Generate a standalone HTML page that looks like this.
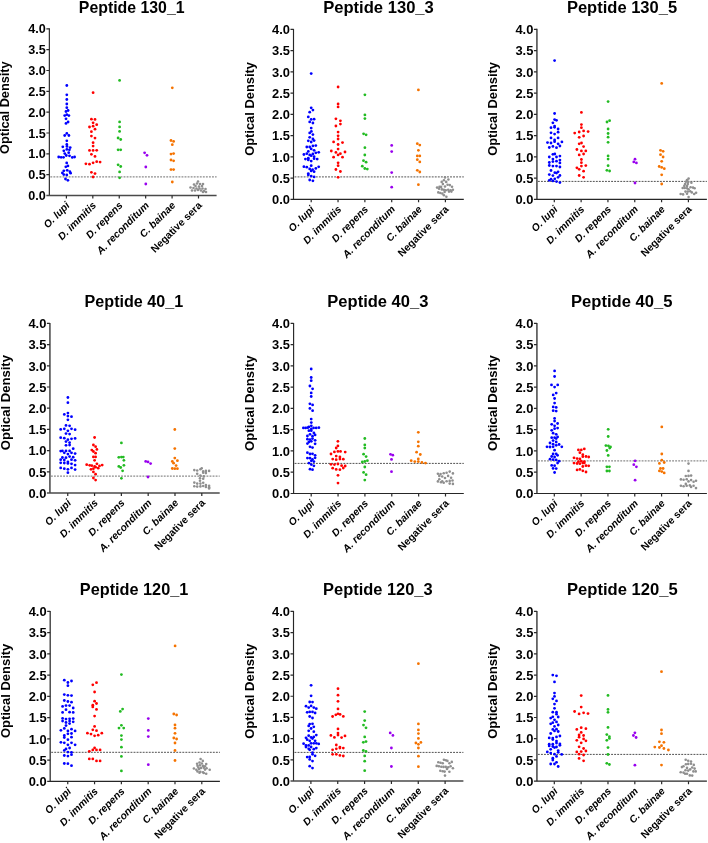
<!DOCTYPE html>
<html><head><meta charset="utf-8"><style>
html,body{margin:0;padding:0;background:#fff;}
svg{display:block;will-change:transform;}
.b{font-family:"Liberation Sans",sans-serif;font-weight:bold;fill:#000;}
</style></head><body>
<svg width="708" height="843" viewBox="0 0 708 843">
<text x="131.68" y="12.70" font-size="15.85" text-anchor="middle" class="b">Peptide 130_1</text>
<text transform="translate(9.45,107.70) rotate(-90)" font-size="12.73" text-anchor="middle" class="b">Optical Density</text>
<path d="M49.35 28.35V195.50" stroke="#262626" stroke-width="1.15" fill="none"/>
<path d="M46.35 195.50H216.60" stroke="#4a4a4a" stroke-width="1.55" fill="none"/>
<text x="45.75" y="200.14" font-size="12.6" text-anchor="end" class="b">0.0</text>
<text x="45.75" y="179.31" font-size="12.6" text-anchor="end" class="b">0.5</text>
<text x="45.75" y="158.47" font-size="12.6" text-anchor="end" class="b">1.0</text>
<text x="45.75" y="137.64" font-size="12.6" text-anchor="end" class="b">1.5</text>
<text x="45.75" y="116.81" font-size="12.6" text-anchor="end" class="b">2.0</text>
<text x="45.75" y="95.98" font-size="12.6" text-anchor="end" class="b">2.5</text>
<text x="45.75" y="75.15" font-size="12.6" text-anchor="end" class="b">3.0</text>
<text x="45.75" y="54.32" font-size="12.6" text-anchor="end" class="b">3.5</text>
<text x="45.75" y="33.49" font-size="12.6" text-anchor="end" class="b">4.0</text>
<text transform="translate(70.35,206.00) rotate(-45)" font-size="10.30" text-anchor="end" class="b" font-style="italic">O. lupi</text>
<text transform="translate(96.77,206.00) rotate(-45)" font-size="10.30" text-anchor="end" class="b" font-style="italic">D. immitis</text>
<text transform="translate(123.19,206.00) rotate(-45)" font-size="10.30" text-anchor="end" class="b" font-style="italic">D. repens</text>
<text transform="translate(149.61,206.00) rotate(-45)" font-size="10.30" text-anchor="end" class="b" font-style="italic">A. reconditum</text>
<text transform="translate(176.03,206.00) rotate(-45)" font-size="10.30" text-anchor="end" class="b" font-style="italic">C. bainae</text>
<text transform="translate(202.45,206.00) rotate(-45)" font-size="10.30" text-anchor="end" class="b">Negative sera</text>
<path d="M46.35 174.67H49.35M46.35 153.84H49.35M46.35 133.01H49.35M46.35 112.17H49.35M46.35 91.34H49.35M46.35 70.51H49.35M46.35 49.68H49.35M46.35 28.85H49.35M66.40 195.50V198.50M92.82 195.50V198.50M119.24 195.50V198.50M145.66 195.50V198.50M172.08 195.50V198.50M198.50 195.50V198.50" stroke="#2a2a2a" stroke-width="1.2" fill="none"/>
<path d="M50.35 176.90H216.60" stroke="#8c8c8c" stroke-width="1.3" stroke-dasharray="1.9 1.15" fill="none"/>
<circle cx="66.8" cy="85.5" r="1.4" fill="#0000ff"/><circle cx="66.8" cy="94.8" r="1.4" fill="#0000ff"/><circle cx="66.8" cy="99.5" r="1.4" fill="#0000ff"/><circle cx="66.8" cy="104.0" r="1.4" fill="#0000ff"/><circle cx="66.8" cy="107.7" r="1.4" fill="#0000ff"/><circle cx="66.0" cy="111.5" r="1.4" fill="#0000ff"/><circle cx="68.1" cy="110.5" r="1.4" fill="#0000ff"/><circle cx="64.7" cy="115.6" r="1.4" fill="#0000ff"/><circle cx="66.8" cy="114.7" r="1.4" fill="#0000ff"/><circle cx="68.9" cy="115.6" r="1.4" fill="#0000ff"/><circle cx="66.0" cy="118.8" r="1.4" fill="#0000ff"/><circle cx="68.1" cy="122.0" r="1.4" fill="#0000ff"/><circle cx="66.0" cy="123.4" r="1.4" fill="#0000ff"/><circle cx="66.8" cy="133.4" r="1.4" fill="#0000ff"/><circle cx="64.7" cy="135.5" r="1.4" fill="#0000ff"/><circle cx="68.9" cy="135.5" r="1.4" fill="#0000ff"/><circle cx="66.8" cy="140.8" r="1.4" fill="#0000ff"/><circle cx="66.8" cy="144.5" r="1.4" fill="#0000ff"/><circle cx="62.8" cy="146.8" r="1.4" fill="#0000ff"/><circle cx="67" cy="146.4" r="1.4" fill="#0000ff"/><circle cx="70.2" cy="147.6" r="1.4" fill="#0000ff"/><circle cx="69.4" cy="149.8" r="1.4" fill="#0000ff"/><circle cx="66.8" cy="149.4" r="1.4" fill="#0000ff"/><circle cx="63.8" cy="150.8" r="1.4" fill="#0000ff"/><circle cx="64.8" cy="153.6" r="1.4" fill="#0000ff"/><circle cx="68.7" cy="152.7" r="1.4" fill="#0000ff"/><circle cx="58.7" cy="157" r="1.4" fill="#0000ff"/><circle cx="61.1" cy="157.3" r="1.4" fill="#0000ff"/><circle cx="63.5" cy="157.3" r="1.4" fill="#0000ff"/><circle cx="66.3" cy="155.5" r="1.4" fill="#0000ff"/><circle cx="69.5" cy="155.8" r="1.4" fill="#0000ff"/><circle cx="72.3" cy="157.4" r="1.4" fill="#0000ff"/><circle cx="74.6" cy="157" r="1.4" fill="#0000ff"/><circle cx="66.7" cy="162.9" r="1.4" fill="#0000ff"/><circle cx="65.8" cy="166.8" r="1.4" fill="#0000ff"/><circle cx="67.9" cy="165.9" r="1.4" fill="#0000ff"/><circle cx="63.8" cy="170.8" r="1.4" fill="#0000ff"/><circle cx="67.2" cy="170.3" r="1.4" fill="#0000ff"/><circle cx="69.9" cy="171.7" r="1.4" fill="#0000ff"/><circle cx="70.6" cy="173.2" r="1.4" fill="#0000ff"/><circle cx="66.8" cy="174.9" r="1.4" fill="#0000ff"/><circle cx="63.8" cy="174.6" r="1.4" fill="#0000ff"/><circle cx="62.4" cy="172.9" r="1.4" fill="#0000ff"/><circle cx="65.5" cy="179" r="1.4" fill="#0000ff"/><circle cx="67.9" cy="180.3" r="1.4" fill="#0000ff"/>
<circle cx="93.1" cy="92.7" r="1.4" fill="#ff0000"/><circle cx="91.4" cy="119.2" r="1.4" fill="#ff0000"/><circle cx="95.0" cy="119.4" r="1.4" fill="#ff0000"/><circle cx="93.1" cy="122.8" r="1.4" fill="#ff0000"/><circle cx="96.7" cy="124.7" r="1.4" fill="#ff0000"/><circle cx="89.5" cy="127" r="1.4" fill="#ff0000"/><circle cx="93.1" cy="126.2" r="1.4" fill="#ff0000"/><circle cx="95" cy="129.2" r="1.4" fill="#ff0000"/><circle cx="91.4" cy="131.7" r="1.4" fill="#ff0000"/><circle cx="91.4" cy="136.1" r="1.4" fill="#ff0000"/><circle cx="95" cy="138.1" r="1.4" fill="#ff0000"/><circle cx="93.1" cy="142.7" r="1.4" fill="#ff0000"/><circle cx="93.1" cy="146.1" r="1.4" fill="#ff0000"/><circle cx="89.5" cy="150.4" r="1.4" fill="#ff0000"/><circle cx="93.1" cy="150.4" r="1.4" fill="#ff0000"/><circle cx="96.7" cy="150.3" r="1.4" fill="#ff0000"/><circle cx="91.4" cy="154.3" r="1.4" fill="#ff0000"/><circle cx="95" cy="156.4" r="1.4" fill="#ff0000"/><circle cx="85.9" cy="163.8" r="1.4" fill="#ff0000"/><circle cx="89.5" cy="164.2" r="1.4" fill="#ff0000"/><circle cx="93.1" cy="162.8" r="1.4" fill="#ff0000"/><circle cx="96.7" cy="161.7" r="1.4" fill="#ff0000"/><circle cx="100.1" cy="162.1" r="1.4" fill="#ff0000"/><circle cx="91.4" cy="172.3" r="1.4" fill="#ff0000"/><circle cx="95" cy="173.6" r="1.4" fill="#ff0000"/><circle cx="93.1" cy="177" r="1.4" fill="#ff0000"/>
<circle cx="119.6" cy="80.4" r="1.4" fill="#22bb22"/><circle cx="119.6" cy="121.9" r="1.4" fill="#22bb22"/><circle cx="119.6" cy="126.9" r="1.4" fill="#22bb22"/><circle cx="119.6" cy="131.4" r="1.4" fill="#22bb22"/><circle cx="118.1" cy="138" r="1.4" fill="#22bb22"/><circle cx="120.7" cy="139.5" r="1.4" fill="#22bb22"/><circle cx="118.1" cy="149.8" r="1.4" fill="#22bb22"/><circle cx="120.7" cy="149.8" r="1.4" fill="#22bb22"/><circle cx="118.1" cy="164.8" r="1.4" fill="#22bb22"/><circle cx="120.7" cy="166.5" r="1.4" fill="#22bb22"/><circle cx="119.6" cy="171.9" r="1.4" fill="#22bb22"/><circle cx="119.6" cy="177.8" r="1.4" fill="#22bb22"/>
<circle cx="144.6" cy="152.8" r="1.4" fill="#9900ee"/><circle cx="147" cy="155.3" r="1.4" fill="#9900ee"/><circle cx="145.8" cy="167" r="1.4" fill="#9900ee"/><circle cx="145.8" cy="184" r="1.4" fill="#9900ee"/>
<circle cx="172.3" cy="87.8" r="1.4" fill="#f57300"/><circle cx="171" cy="140.5" r="1.4" fill="#f57300"/><circle cx="173.6" cy="141.4" r="1.4" fill="#f57300"/><circle cx="172.3" cy="144.7" r="1.4" fill="#f57300"/><circle cx="171" cy="154.1" r="1.4" fill="#f57300"/><circle cx="173.6" cy="153.6" r="1.4" fill="#f57300"/><circle cx="171" cy="160" r="1.4" fill="#f57300"/><circle cx="173.6" cy="160.8" r="1.4" fill="#f57300"/><circle cx="171" cy="169.6" r="1.4" fill="#f57300"/><circle cx="173.6" cy="169.6" r="1.4" fill="#f57300"/><circle cx="172.3" cy="182" r="1.4" fill="#f57300"/>
<circle cx="198" cy="181.5" r="1.3" fill="#8f8f8f"/><circle cx="194" cy="184.5" r="1.3" fill="#8f8f8f"/><circle cx="197" cy="183.5" r="1.3" fill="#8f8f8f"/><circle cx="200" cy="184" r="1.3" fill="#8f8f8f"/><circle cx="203" cy="184" r="1.3" fill="#8f8f8f"/><circle cx="195.5" cy="186" r="1.3" fill="#8f8f8f"/><circle cx="199" cy="186.5" r="1.3" fill="#8f8f8f"/><circle cx="202" cy="186" r="1.3" fill="#8f8f8f"/><circle cx="190.5" cy="187.5" r="1.3" fill="#8f8f8f"/><circle cx="193.5" cy="188" r="1.3" fill="#8f8f8f"/><circle cx="196.5" cy="188.5" r="1.3" fill="#8f8f8f"/><circle cx="199.5" cy="188.5" r="1.3" fill="#8f8f8f"/><circle cx="202.5" cy="188.5" r="1.3" fill="#8f8f8f"/><circle cx="205.5" cy="189" r="1.3" fill="#8f8f8f"/><circle cx="192" cy="190.5" r="1.3" fill="#8f8f8f"/><circle cx="195" cy="190.5" r="1.3" fill="#8f8f8f"/><circle cx="198" cy="190" r="1.3" fill="#8f8f8f"/><circle cx="201" cy="190.5" r="1.3" fill="#8f8f8f"/><circle cx="204" cy="191" r="1.3" fill="#8f8f8f"/><circle cx="203" cy="192" r="1.3" fill="#8f8f8f"/><circle cx="206" cy="192" r="1.3" fill="#8f8f8f"/>
<text x="378.47" y="13.30" font-size="16.60" text-anchor="middle" class="b">Peptide 130_3</text>
<text transform="translate(253.60,108.90) rotate(-90)" font-size="12.9" text-anchor="middle" class="b">Optical Density</text>
<path d="M293.50 28.93V199.35" stroke="#262626" stroke-width="1.15" fill="none"/>
<path d="M290.50 199.35H463.80" stroke="#262626" stroke-width="1.15" fill="none"/>
<text x="289.90" y="204.10" font-size="12.9" text-anchor="end" class="b">0.0</text>
<text x="289.90" y="182.86" font-size="12.9" text-anchor="end" class="b">0.5</text>
<text x="289.90" y="161.62" font-size="12.9" text-anchor="end" class="b">1.0</text>
<text x="289.90" y="140.38" font-size="12.9" text-anchor="end" class="b">1.5</text>
<text x="289.90" y="119.14" font-size="12.9" text-anchor="end" class="b">2.0</text>
<text x="289.90" y="97.90" font-size="12.9" text-anchor="end" class="b">2.5</text>
<text x="289.90" y="76.66" font-size="12.9" text-anchor="end" class="b">3.0</text>
<text x="289.90" y="55.42" font-size="12.9" text-anchor="end" class="b">3.5</text>
<text x="289.90" y="34.18" font-size="12.9" text-anchor="end" class="b">4.0</text>
<text transform="translate(315.15,209.85) rotate(-45)" font-size="10.30" text-anchor="end" class="b" font-style="italic">O. lupi</text>
<text transform="translate(341.99,209.85) rotate(-45)" font-size="10.30" text-anchor="end" class="b" font-style="italic">D. immitis</text>
<text transform="translate(368.83,209.85) rotate(-45)" font-size="10.30" text-anchor="end" class="b" font-style="italic">D. repens</text>
<text transform="translate(395.67,209.85) rotate(-45)" font-size="10.30" text-anchor="end" class="b" font-style="italic">A. reconditum</text>
<text transform="translate(422.51,209.85) rotate(-45)" font-size="10.30" text-anchor="end" class="b" font-style="italic">C. bainae</text>
<text transform="translate(449.35,209.85) rotate(-45)" font-size="10.30" text-anchor="end" class="b">Negative sera</text>
<path d="M290.50 178.11H293.50M290.50 156.87H293.50M290.50 135.63H293.50M290.50 114.39H293.50M290.50 93.15H293.50M290.50 71.91H293.50M290.50 50.67H293.50M290.50 29.43H293.50M311.20 199.35V202.35M338.04 199.35V202.35M364.88 199.35V202.35M391.72 199.35V202.35M418.56 199.35V202.35M445.40 199.35V202.35" stroke="#2a2a2a" stroke-width="1.2" fill="none"/>
<path d="M294.50 176.80H463.80" stroke="#777" stroke-width="1.2" stroke-dasharray="1.9 1.15" fill="none"/>
<circle cx="311.2" cy="73.6" r="1.4" fill="#0000ff"/><circle cx="311.2" cy="107.8" r="1.4" fill="#0000ff"/><circle cx="312.9" cy="110.1" r="1.4" fill="#0000ff"/><circle cx="309.7" cy="112.2" r="1.4" fill="#0000ff"/><circle cx="308.3" cy="116.9" r="1.4" fill="#0000ff"/><circle cx="311.2" cy="119.4" r="1.4" fill="#0000ff"/><circle cx="314.1" cy="119.2" r="1.4" fill="#0000ff"/><circle cx="309.7" cy="121.9" r="1.4" fill="#0000ff"/><circle cx="312.9" cy="123" r="1.4" fill="#0000ff"/><circle cx="311.2" cy="128.1" r="1.4" fill="#0000ff"/><circle cx="309.7" cy="132.9" r="1.4" fill="#0000ff"/><circle cx="311.4" cy="131.4" r="1.4" fill="#0000ff"/><circle cx="312.9" cy="134.6" r="1.4" fill="#0000ff"/><circle cx="309.7" cy="137.3" r="1.4" fill="#0000ff"/><circle cx="312.9" cy="139" r="1.4" fill="#0000ff"/><circle cx="314.1" cy="140.6" r="1.4" fill="#0000ff"/><circle cx="308.3" cy="140.8" r="1.4" fill="#0000ff"/><circle cx="311.2" cy="142" r="1.4" fill="#0000ff"/><circle cx="306.8" cy="147" r="1.4" fill="#0000ff"/><circle cx="309.7" cy="147" r="1.4" fill="#0000ff"/><circle cx="312.9" cy="145.9" r="1.4" fill="#0000ff"/><circle cx="315.8" cy="145.6" r="1.4" fill="#0000ff"/><circle cx="311.2" cy="148.9" r="1.4" fill="#0000ff"/><circle cx="308.3" cy="151.4" r="1.4" fill="#0000ff"/><circle cx="314.1" cy="150.3" r="1.4" fill="#0000ff"/><circle cx="315.8" cy="152.8" r="1.4" fill="#0000ff"/><circle cx="318.7" cy="152.3" r="1.4" fill="#0000ff"/><circle cx="306.8" cy="153.7" r="1.4" fill="#0000ff"/><circle cx="303.9" cy="154.5" r="1.4" fill="#0000ff"/><circle cx="309.7" cy="154.9" r="1.4" fill="#0000ff"/><circle cx="312.9" cy="153.9" r="1.4" fill="#0000ff"/><circle cx="311.2" cy="155.7" r="1.4" fill="#0000ff"/><circle cx="314.1" cy="156.7" r="1.4" fill="#0000ff"/><circle cx="305.4" cy="159.1" r="1.4" fill="#0000ff"/><circle cx="308.3" cy="158.2" r="1.4" fill="#0000ff"/><circle cx="308.3" cy="159.9" r="1.4" fill="#0000ff"/><circle cx="314.1" cy="158.7" r="1.4" fill="#0000ff"/><circle cx="317.2" cy="159.1" r="1.4" fill="#0000ff"/><circle cx="311.2" cy="161.1" r="1.4" fill="#0000ff"/><circle cx="303.9" cy="166.7" r="1.4" fill="#0000ff"/><circle cx="306.8" cy="167.2" r="1.4" fill="#0000ff"/><circle cx="311.2" cy="165.7" r="1.4" fill="#0000ff"/><circle cx="318.7" cy="166.8" r="1.4" fill="#0000ff"/><circle cx="315.8" cy="168.4" r="1.4" fill="#0000ff"/><circle cx="309.7" cy="168.9" r="1.4" fill="#0000ff"/><circle cx="312.6" cy="169.7" r="1.4" fill="#0000ff"/><circle cx="311.2" cy="170.9" r="1.4" fill="#0000ff"/><circle cx="314.1" cy="171.7" r="1.4" fill="#0000ff"/><circle cx="308.3" cy="173.6" r="1.4" fill="#0000ff"/><circle cx="308.3" cy="174.9" r="1.4" fill="#0000ff"/><circle cx="311.2" cy="176.1" r="1.4" fill="#0000ff"/><circle cx="314.1" cy="176.9" r="1.4" fill="#0000ff"/><circle cx="309.7" cy="180" r="1.4" fill="#0000ff"/><circle cx="312.9" cy="180.8" r="1.4" fill="#0000ff"/>
<circle cx="338.1" cy="87" r="1.4" fill="#ff0000"/><circle cx="338.1" cy="103.9" r="1.4" fill="#ff0000"/><circle cx="338.1" cy="106.9" r="1.4" fill="#ff0000"/><circle cx="335.9" cy="118.8" r="1.4" fill="#ff0000"/><circle cx="340.4" cy="120.8" r="1.4" fill="#ff0000"/><circle cx="340.4" cy="124.1" r="1.4" fill="#ff0000"/><circle cx="335.9" cy="126" r="1.4" fill="#ff0000"/><circle cx="338.1" cy="132.1" r="1.4" fill="#ff0000"/><circle cx="338.1" cy="135.8" r="1.4" fill="#ff0000"/><circle cx="338.1" cy="139" r="1.4" fill="#ff0000"/><circle cx="333.6" cy="141.9" r="1.4" fill="#ff0000"/><circle cx="342.5" cy="142.6" r="1.4" fill="#ff0000"/><circle cx="338.1" cy="144.5" r="1.4" fill="#ff0000"/><circle cx="338.1" cy="149.1" r="1.4" fill="#ff0000"/><circle cx="331.3" cy="151" r="1.4" fill="#ff0000"/><circle cx="335.9" cy="152.4" r="1.4" fill="#ff0000"/><circle cx="340.4" cy="153.7" r="1.4" fill="#ff0000"/><circle cx="345" cy="152" r="1.4" fill="#ff0000"/><circle cx="338.1" cy="154.9" r="1.4" fill="#ff0000"/><circle cx="333.6" cy="157.2" r="1.4" fill="#ff0000"/><circle cx="342.5" cy="157.2" r="1.4" fill="#ff0000"/><circle cx="338.1" cy="162.8" r="1.4" fill="#ff0000"/><circle cx="338.1" cy="165.7" r="1.4" fill="#ff0000"/><circle cx="335.9" cy="169.5" r="1.4" fill="#ff0000"/><circle cx="340.4" cy="171.5" r="1.4" fill="#ff0000"/><circle cx="338.1" cy="177.3" r="1.4" fill="#ff0000"/>
<circle cx="364.9" cy="94.8" r="1.4" fill="#22bb22"/><circle cx="364.9" cy="114.9" r="1.4" fill="#22bb22"/><circle cx="364.9" cy="118.6" r="1.4" fill="#22bb22"/><circle cx="363.6" cy="133.8" r="1.4" fill="#22bb22"/><circle cx="366.1" cy="134.8" r="1.4" fill="#22bb22"/><circle cx="364.9" cy="147.7" r="1.4" fill="#22bb22"/><circle cx="364.8" cy="155" r="1.4" fill="#22bb22"/><circle cx="363.5" cy="160.7" r="1.4" fill="#22bb22"/><circle cx="366.1" cy="162.2" r="1.4" fill="#22bb22"/><circle cx="362.3" cy="166.2" r="1.4" fill="#22bb22"/><circle cx="364.8" cy="168.5" r="1.4" fill="#22bb22"/><circle cx="367.3" cy="169.1" r="1.4" fill="#22bb22"/>
<circle cx="391.7" cy="145.4" r="1.4" fill="#9900ee"/><circle cx="391.7" cy="151.6" r="1.4" fill="#9900ee"/><circle cx="391.7" cy="172.6" r="1.4" fill="#9900ee"/><circle cx="391.7" cy="187.2" r="1.4" fill="#9900ee"/>
<circle cx="418.4" cy="89.9" r="1.4" fill="#f57300"/><circle cx="417.3" cy="143.7" r="1.4" fill="#f57300"/><circle cx="419.8" cy="145.1" r="1.4" fill="#f57300"/><circle cx="418.4" cy="150.3" r="1.4" fill="#f57300"/><circle cx="417.3" cy="155.9" r="1.4" fill="#f57300"/><circle cx="419.8" cy="155.9" r="1.4" fill="#f57300"/><circle cx="417.3" cy="159.7" r="1.4" fill="#f57300"/><circle cx="419.8" cy="161.9" r="1.4" fill="#f57300"/><circle cx="417.3" cy="170.3" r="1.4" fill="#f57300"/><circle cx="419.8" cy="172" r="1.4" fill="#f57300"/><circle cx="418.4" cy="184.7" r="1.4" fill="#f57300"/>
<circle cx="445" cy="177.4" r="1.3" fill="#8f8f8f"/><circle cx="448.4" cy="179.5" r="1.3" fill="#8f8f8f"/><circle cx="443.9" cy="180.3" r="1.3" fill="#8f8f8f"/><circle cx="441.7" cy="181.9" r="1.3" fill="#8f8f8f"/><circle cx="446.2" cy="181.9" r="1.3" fill="#8f8f8f"/><circle cx="442.9" cy="184.1" r="1.3" fill="#8f8f8f"/><circle cx="447.6" cy="184.7" r="1.3" fill="#8f8f8f"/><circle cx="449.8" cy="185.1" r="1.3" fill="#8f8f8f"/><circle cx="452" cy="186.7" r="1.3" fill="#8f8f8f"/><circle cx="445" cy="186.5" r="1.3" fill="#8f8f8f"/><circle cx="437.1" cy="187.6" r="1.3" fill="#8f8f8f"/><circle cx="439.5" cy="186.9" r="1.3" fill="#8f8f8f"/><circle cx="441.1" cy="186.9" r="1.3" fill="#8f8f8f"/><circle cx="439.1" cy="188.8" r="1.3" fill="#8f8f8f"/><circle cx="441.9" cy="189.4" r="1.3" fill="#8f8f8f"/><circle cx="443.9" cy="189.8" r="1.3" fill="#8f8f8f"/><circle cx="445.8" cy="190.2" r="1.3" fill="#8f8f8f"/><circle cx="448.2" cy="189.8" r="1.3" fill="#8f8f8f"/><circle cx="450.6" cy="190.4" r="1.3" fill="#8f8f8f"/><circle cx="452.9" cy="189.8" r="1.3" fill="#8f8f8f"/><circle cx="438.3" cy="192.4" r="1.3" fill="#8f8f8f"/><circle cx="440.3" cy="193" r="1.3" fill="#8f8f8f"/><circle cx="442.3" cy="193.6" r="1.3" fill="#8f8f8f"/><circle cx="444.6" cy="192" r="1.3" fill="#8f8f8f"/><circle cx="449" cy="191.6" r="1.3" fill="#8f8f8f"/><circle cx="451.4" cy="191.6" r="1.3" fill="#8f8f8f"/><circle cx="443.9" cy="195.2" r="1.3" fill="#8f8f8f"/><circle cx="446.4" cy="196.7" r="1.3" fill="#8f8f8f"/>
<text x="622.02" y="12.70" font-size="16.52" text-anchor="middle" class="b">Peptide 130_5</text>
<text transform="translate(497.02,108.90) rotate(-90)" font-size="12.9" text-anchor="middle" class="b">Optical Density</text>
<path d="M536.92 28.84V199.35" stroke="#4a4a4a" stroke-width="1.55" fill="none"/>
<path d="M533.92 199.35H706.90" stroke="#262626" stroke-width="1.15" fill="none"/>
<text x="533.32" y="204.10" font-size="12.9" text-anchor="end" class="b">0.0</text>
<text x="533.32" y="182.85" font-size="12.9" text-anchor="end" class="b">0.5</text>
<text x="533.32" y="161.59" font-size="12.9" text-anchor="end" class="b">1.0</text>
<text x="533.32" y="140.34" font-size="12.9" text-anchor="end" class="b">1.5</text>
<text x="533.32" y="119.09" font-size="12.9" text-anchor="end" class="b">2.0</text>
<text x="533.32" y="97.84" font-size="12.9" text-anchor="end" class="b">2.5</text>
<text x="533.32" y="76.59" font-size="12.9" text-anchor="end" class="b">3.0</text>
<text x="533.32" y="55.34" font-size="12.9" text-anchor="end" class="b">3.5</text>
<text x="533.32" y="34.09" font-size="12.9" text-anchor="end" class="b">4.0</text>
<text transform="translate(558.25,209.85) rotate(-45)" font-size="10.30" text-anchor="end" class="b" font-style="italic">O. lupi</text>
<text transform="translate(585.07,209.85) rotate(-45)" font-size="10.30" text-anchor="end" class="b" font-style="italic">D. immitis</text>
<text transform="translate(611.89,209.85) rotate(-45)" font-size="10.30" text-anchor="end" class="b" font-style="italic">D. repens</text>
<text transform="translate(638.71,209.85) rotate(-45)" font-size="10.30" text-anchor="end" class="b" font-style="italic">A. reconditum</text>
<text transform="translate(665.53,209.85) rotate(-45)" font-size="10.30" text-anchor="end" class="b" font-style="italic">C. bainae</text>
<text transform="translate(692.35,209.85) rotate(-45)" font-size="10.30" text-anchor="end" class="b">Negative sera</text>
<path d="M533.92 178.10H536.92M533.92 156.85H536.92M533.92 135.60H536.92M533.92 114.34H536.92M533.92 93.09H536.92M533.92 71.84H536.92M533.92 50.59H536.92M533.92 29.34H536.92M554.30 199.35V202.35M581.12 199.35V202.35M607.94 199.35V202.35M634.76 199.35V202.35M661.58 199.35V202.35M688.40 199.35V202.35" stroke="#2a2a2a" stroke-width="1.2" fill="none"/>
<path d="M537.92 181.40H706.90" stroke="#505050" stroke-width="1.0" stroke-dasharray="1.9 1.15" fill="none"/>
<circle cx="554.6" cy="60.6" r="1.4" fill="#0000ff"/><circle cx="554.6" cy="113.5" r="1.4" fill="#0000ff"/><circle cx="554.6" cy="119.6" r="1.4" fill="#0000ff"/><circle cx="556.5" cy="120.3" r="1.4" fill="#0000ff"/><circle cx="552.9" cy="122.8" r="1.4" fill="#0000ff"/><circle cx="554.6" cy="126.1" r="1.4" fill="#0000ff"/><circle cx="554.6" cy="127.3" r="1.4" fill="#0000ff"/><circle cx="551" cy="127.7" r="1.4" fill="#0000ff"/><circle cx="558.1" cy="129" r="1.4" fill="#0000ff"/><circle cx="551" cy="132.8" r="1.4" fill="#0000ff"/><circle cx="554.6" cy="134.1" r="1.4" fill="#0000ff"/><circle cx="558.1" cy="132.2" r="1.4" fill="#0000ff"/><circle cx="551" cy="137.9" r="1.4" fill="#0000ff"/><circle cx="558.1" cy="137.9" r="1.4" fill="#0000ff"/><circle cx="554.6" cy="140" r="1.4" fill="#0000ff"/><circle cx="554.6" cy="141.7" r="1.4" fill="#0000ff"/><circle cx="547.5" cy="142.6" r="1.4" fill="#0000ff"/><circle cx="551" cy="143" r="1.4" fill="#0000ff"/><circle cx="561.9" cy="141.9" r="1.4" fill="#0000ff"/><circle cx="558.1" cy="143.8" r="1.4" fill="#0000ff"/><circle cx="559.9" cy="146" r="1.4" fill="#0000ff"/><circle cx="549.3" cy="147.5" r="1.4" fill="#0000ff"/><circle cx="552.9" cy="146.4" r="1.4" fill="#0000ff"/><circle cx="556.5" cy="147.7" r="1.4" fill="#0000ff"/><circle cx="552.9" cy="154.3" r="1.4" fill="#0000ff"/><circle cx="554.8" cy="154" r="1.4" fill="#0000ff"/><circle cx="549.3" cy="157" r="1.4" fill="#0000ff"/><circle cx="556.5" cy="157" r="1.4" fill="#0000ff"/><circle cx="559.9" cy="156.1" r="1.4" fill="#0000ff"/><circle cx="552.9" cy="159.1" r="1.4" fill="#0000ff"/><circle cx="556.5" cy="161.2" r="1.4" fill="#0000ff"/><circle cx="559.9" cy="160.1" r="1.4" fill="#0000ff"/><circle cx="552.9" cy="161.6" r="1.4" fill="#0000ff"/><circle cx="549.3" cy="162.5" r="1.4" fill="#0000ff"/><circle cx="559.9" cy="162.9" r="1.4" fill="#0000ff"/><circle cx="549.3" cy="165.5" r="1.4" fill="#0000ff"/><circle cx="552.9" cy="166.1" r="1.4" fill="#0000ff"/><circle cx="556.5" cy="166.1" r="1.4" fill="#0000ff"/><circle cx="559.9" cy="167" r="1.4" fill="#0000ff"/><circle cx="551" cy="170.5" r="1.4" fill="#0000ff"/><circle cx="554.8" cy="172.7" r="1.4" fill="#0000ff"/><circle cx="558.1" cy="171.8" r="1.4" fill="#0000ff"/><circle cx="556.5" cy="173.1" r="1.4" fill="#0000ff"/><circle cx="549.3" cy="174.6" r="1.4" fill="#0000ff"/><circle cx="552.9" cy="175.6" r="1.4" fill="#0000ff"/><circle cx="559.9" cy="175.5" r="1.4" fill="#0000ff"/><circle cx="558.1" cy="177.3" r="1.4" fill="#0000ff"/><circle cx="549.3" cy="180.3" r="1.4" fill="#0000ff"/><circle cx="551" cy="179.2" r="1.4" fill="#0000ff"/><circle cx="552.9" cy="180.9" r="1.4" fill="#0000ff"/><circle cx="554.8" cy="178.8" r="1.4" fill="#0000ff"/><circle cx="556.5" cy="181.6" r="1.4" fill="#0000ff"/><circle cx="559.9" cy="182.6" r="1.4" fill="#0000ff"/>
<circle cx="581.4" cy="112.4" r="1.4" fill="#ff0000"/><circle cx="581.4" cy="124.6" r="1.4" fill="#ff0000"/><circle cx="581.4" cy="127.7" r="1.4" fill="#ff0000"/><circle cx="574.7" cy="133.1" r="1.4" fill="#ff0000"/><circle cx="579.2" cy="132" r="1.4" fill="#ff0000"/><circle cx="583.6" cy="130.9" r="1.4" fill="#ff0000"/><circle cx="588.1" cy="131.6" r="1.4" fill="#ff0000"/><circle cx="579.2" cy="137.3" r="1.4" fill="#ff0000"/><circle cx="583.6" cy="136" r="1.4" fill="#ff0000"/><circle cx="579.2" cy="143.8" r="1.4" fill="#ff0000"/><circle cx="581.5" cy="143" r="1.4" fill="#ff0000"/><circle cx="583.6" cy="146.6" r="1.4" fill="#ff0000"/><circle cx="576.9" cy="149.5" r="1.4" fill="#ff0000"/><circle cx="581.4" cy="150.9" r="1.4" fill="#ff0000"/><circle cx="585.8" cy="150.9" r="1.4" fill="#ff0000"/><circle cx="583.6" cy="154" r="1.4" fill="#ff0000"/><circle cx="579.2" cy="154.9" r="1.4" fill="#ff0000"/><circle cx="581.4" cy="159.5" r="1.4" fill="#ff0000"/><circle cx="581.4" cy="162.7" r="1.4" fill="#ff0000"/><circle cx="581.4" cy="166.1" r="1.4" fill="#ff0000"/><circle cx="585.8" cy="165.6" r="1.4" fill="#ff0000"/><circle cx="576.9" cy="167.8" r="1.4" fill="#ff0000"/><circle cx="579.2" cy="169.3" r="1.4" fill="#ff0000"/><circle cx="583.6" cy="171.2" r="1.4" fill="#ff0000"/><circle cx="579.2" cy="175.5" r="1.4" fill="#ff0000"/><circle cx="583.6" cy="177.3" r="1.4" fill="#ff0000"/>
<circle cx="608.1" cy="101.6" r="1.4" fill="#22bb22"/><circle cx="607" cy="122" r="1.4" fill="#22bb22"/><circle cx="609.6" cy="120.7" r="1.4" fill="#22bb22"/><circle cx="608.1" cy="129" r="1.4" fill="#22bb22"/><circle cx="608.1" cy="133.5" r="1.4" fill="#22bb22"/><circle cx="608.1" cy="137.2" r="1.4" fill="#22bb22"/><circle cx="608.1" cy="142.3" r="1.4" fill="#22bb22"/><circle cx="608.1" cy="155.9" r="1.4" fill="#22bb22"/><circle cx="608.1" cy="159.1" r="1.4" fill="#22bb22"/><circle cx="608.1" cy="165.7" r="1.4" fill="#22bb22"/><circle cx="606.9" cy="170.3" r="1.4" fill="#22bb22"/><circle cx="609.6" cy="171" r="1.4" fill="#22bb22"/>
<circle cx="635" cy="159.2" r="1.4" fill="#9900ee"/><circle cx="633.8" cy="161.9" r="1.4" fill="#9900ee"/><circle cx="636.4" cy="162.9" r="1.4" fill="#9900ee"/><circle cx="635" cy="183" r="1.4" fill="#9900ee"/>
<circle cx="661.7" cy="83.4" r="1.4" fill="#f57300"/><circle cx="660.5" cy="150.3" r="1.4" fill="#f57300"/><circle cx="663.1" cy="151.3" r="1.4" fill="#f57300"/><circle cx="660.5" cy="154.7" r="1.4" fill="#f57300"/><circle cx="663.1" cy="157" r="1.4" fill="#f57300"/><circle cx="661.7" cy="161.3" r="1.4" fill="#f57300"/><circle cx="659.2" cy="166.5" r="1.4" fill="#f57300"/><circle cx="661.7" cy="167.4" r="1.4" fill="#f57300"/><circle cx="664.3" cy="168.7" r="1.4" fill="#f57300"/><circle cx="661.7" cy="174.8" r="1.4" fill="#f57300"/><circle cx="661.7" cy="184" r="1.4" fill="#f57300"/>
<circle cx="688.6" cy="178.6" r="1.3" fill="#8f8f8f"/><circle cx="687" cy="180.1" r="1.3" fill="#8f8f8f"/><circle cx="685.9" cy="181.7" r="1.3" fill="#8f8f8f"/><circle cx="688.2" cy="181.9" r="1.3" fill="#8f8f8f"/><circle cx="691.4" cy="182.7" r="1.3" fill="#8f8f8f"/><circle cx="685.1" cy="184.1" r="1.3" fill="#8f8f8f"/><circle cx="687.8" cy="184.1" r="1.3" fill="#8f8f8f"/><circle cx="684.3" cy="185.9" r="1.3" fill="#8f8f8f"/><circle cx="687" cy="186.1" r="1.3" fill="#8f8f8f"/><circle cx="682.7" cy="188" r="1.3" fill="#8f8f8f"/><circle cx="684.7" cy="188" r="1.3" fill="#8f8f8f"/><circle cx="687" cy="188.2" r="1.3" fill="#8f8f8f"/><circle cx="690.6" cy="187.3" r="1.3" fill="#8f8f8f"/><circle cx="693" cy="187.6" r="1.3" fill="#8f8f8f"/><circle cx="694.6" cy="188.2" r="1.3" fill="#8f8f8f"/><circle cx="688.6" cy="189.2" r="1.3" fill="#8f8f8f"/><circle cx="685.5" cy="191.6" r="1.3" fill="#8f8f8f"/><circle cx="687.8" cy="191.6" r="1.3" fill="#8f8f8f"/><circle cx="690.2" cy="191.2" r="1.3" fill="#8f8f8f"/><circle cx="691.8" cy="192.4" r="1.3" fill="#8f8f8f"/><circle cx="680.7" cy="194" r="1.3" fill="#8f8f8f"/><circle cx="683.1" cy="194.4" r="1.3" fill="#8f8f8f"/><circle cx="687" cy="193.8" r="1.3" fill="#8f8f8f"/><circle cx="694.2" cy="194" r="1.3" fill="#8f8f8f"/><circle cx="696.1" cy="192.8" r="1.3" fill="#8f8f8f"/><circle cx="688.6" cy="197.1" r="1.3" fill="#8f8f8f"/>
<text x="133.85" y="307.20" font-size="16.12" text-anchor="middle" class="b">Peptide 40_1</text>
<text transform="translate(10.02,402.65) rotate(-90)" font-size="13.07" text-anchor="middle" class="b">Optical Density</text>
<path d="M49.92 322.93V493.00" stroke="#4a4a4a" stroke-width="1.55" fill="none"/>
<path d="M46.92 493.00H219.70" stroke="#4a4a4a" stroke-width="1.55" fill="none"/>
<text x="46.32" y="497.75" font-size="12.9" text-anchor="end" class="b">0.0</text>
<text x="46.32" y="476.55" font-size="12.9" text-anchor="end" class="b">0.5</text>
<text x="46.32" y="455.35" font-size="12.9" text-anchor="end" class="b">1.0</text>
<text x="46.32" y="434.16" font-size="12.9" text-anchor="end" class="b">1.5</text>
<text x="46.32" y="412.96" font-size="12.9" text-anchor="end" class="b">2.0</text>
<text x="46.32" y="391.77" font-size="12.9" text-anchor="end" class="b">2.5</text>
<text x="46.32" y="370.57" font-size="12.9" text-anchor="end" class="b">3.0</text>
<text x="46.32" y="349.37" font-size="12.9" text-anchor="end" class="b">3.5</text>
<text x="46.32" y="328.18" font-size="12.9" text-anchor="end" class="b">4.0</text>
<text transform="translate(71.70,503.50) rotate(-45)" font-size="10.30" text-anchor="end" class="b" font-style="italic">O. lupi</text>
<text transform="translate(98.51,503.50) rotate(-45)" font-size="10.30" text-anchor="end" class="b" font-style="italic">D. immitis</text>
<text transform="translate(125.32,503.50) rotate(-45)" font-size="10.30" text-anchor="end" class="b" font-style="italic">D. repens</text>
<text transform="translate(152.13,503.50) rotate(-45)" font-size="10.30" text-anchor="end" class="b" font-style="italic">A. reconditum</text>
<text transform="translate(178.94,503.50) rotate(-45)" font-size="10.30" text-anchor="end" class="b" font-style="italic">C. bainae</text>
<text transform="translate(205.75,503.50) rotate(-45)" font-size="10.30" text-anchor="end" class="b">Negative sera</text>
<path d="M46.92 471.80H49.92M46.92 450.61H49.92M46.92 429.41H49.92M46.92 408.22H49.92M46.92 387.02H49.92M46.92 365.82H49.92M46.92 344.63H49.92M46.92 323.43H49.92M67.75 493.00V496.00M94.56 493.00V496.00M121.37 493.00V496.00M148.18 493.00V496.00M174.99 493.00V496.00M201.80 493.00V496.00" stroke="#2a2a2a" stroke-width="1.2" fill="none"/>
<path d="M50.92 476.20H219.70" stroke="#8c8c8c" stroke-width="1.3" stroke-dasharray="1.9 1.15" fill="none"/>
<circle cx="67.9" cy="397.5" r="1.4" fill="#0000ff"/><circle cx="67.9" cy="402.7" r="1.4" fill="#0000ff"/><circle cx="67.9" cy="413.1" r="1.4" fill="#0000ff"/><circle cx="64.3" cy="414.4" r="1.4" fill="#0000ff"/><circle cx="67.9" cy="416.1" r="1.4" fill="#0000ff"/><circle cx="71.5" cy="416.7" r="1.4" fill="#0000ff"/><circle cx="67.9" cy="419.8" r="1.4" fill="#0000ff"/><circle cx="66" cy="425.4" r="1.4" fill="#0000ff"/><circle cx="69.6" cy="425.8" r="1.4" fill="#0000ff"/><circle cx="60.7" cy="429.4" r="1.4" fill="#0000ff"/><circle cx="64.3" cy="428.8" r="1.4" fill="#0000ff"/><circle cx="71.5" cy="428.8" r="1.4" fill="#0000ff"/><circle cx="75.1" cy="429.7" r="1.4" fill="#0000ff"/><circle cx="67.9" cy="430.8" r="1.4" fill="#0000ff"/><circle cx="66" cy="433.6" r="1.4" fill="#0000ff"/><circle cx="69.6" cy="434.1" r="1.4" fill="#0000ff"/><circle cx="60.7" cy="437.7" r="1.4" fill="#0000ff"/><circle cx="64.3" cy="438.2" r="1.4" fill="#0000ff"/><circle cx="67.9" cy="439.7" r="1.4" fill="#0000ff"/><circle cx="71.5" cy="438.8" r="1.4" fill="#0000ff"/><circle cx="75.1" cy="438.4" r="1.4" fill="#0000ff"/><circle cx="66" cy="441.6" r="1.4" fill="#0000ff"/><circle cx="69.6" cy="442.6" r="1.4" fill="#0000ff"/><circle cx="66" cy="445.3" r="1.4" fill="#0000ff"/><circle cx="69.6" cy="445" r="1.4" fill="#0000ff"/><circle cx="73.2" cy="448.7" r="1.4" fill="#0000ff"/><circle cx="60.7" cy="451.1" r="1.4" fill="#0000ff"/><circle cx="62.4" cy="450.9" r="1.4" fill="#0000ff"/><circle cx="66" cy="450.9" r="1.4" fill="#0000ff"/><circle cx="69.6" cy="450.9" r="1.4" fill="#0000ff"/><circle cx="64.3" cy="452.8" r="1.4" fill="#0000ff"/><circle cx="71.5" cy="452.8" r="1.4" fill="#0000ff"/><circle cx="75.1" cy="453.6" r="1.4" fill="#0000ff"/><circle cx="67.9" cy="454.1" r="1.4" fill="#0000ff"/><circle cx="62.4" cy="457.5" r="1.4" fill="#0000ff"/><circle cx="66" cy="457.7" r="1.4" fill="#0000ff"/><circle cx="69.6" cy="456.6" r="1.4" fill="#0000ff"/><circle cx="73.2" cy="457.2" r="1.4" fill="#0000ff"/><circle cx="60.7" cy="459.7" r="1.4" fill="#0000ff"/><circle cx="64.3" cy="460" r="1.4" fill="#0000ff"/><circle cx="71.5" cy="459.7" r="1.4" fill="#0000ff"/><circle cx="75.1" cy="460.3" r="1.4" fill="#0000ff"/><circle cx="60.7" cy="462.8" r="1.4" fill="#0000ff"/><circle cx="64.3" cy="463" r="1.4" fill="#0000ff"/><circle cx="67.9" cy="462" r="1.4" fill="#0000ff"/><circle cx="67.9" cy="463.4" r="1.4" fill="#0000ff"/><circle cx="71.5" cy="463.8" r="1.4" fill="#0000ff"/><circle cx="75.1" cy="465.1" r="1.4" fill="#0000ff"/><circle cx="60.7" cy="467.9" r="1.4" fill="#0000ff"/><circle cx="64.3" cy="468.7" r="1.4" fill="#0000ff"/><circle cx="71.5" cy="467.9" r="1.4" fill="#0000ff"/><circle cx="67.9" cy="469.3" r="1.4" fill="#0000ff"/><circle cx="75.1" cy="469.6" r="1.4" fill="#0000ff"/><circle cx="67.9" cy="472.7" r="1.4" fill="#0000ff"/>
<circle cx="94.6" cy="437.5" r="1.4" fill="#ff0000"/><circle cx="93.4" cy="445" r="1.4" fill="#ff0000"/><circle cx="95.6" cy="446.7" r="1.4" fill="#ff0000"/><circle cx="91.8" cy="450.1" r="1.4" fill="#ff0000"/><circle cx="96.9" cy="449.4" r="1.4" fill="#ff0000"/><circle cx="93.4" cy="451.5" r="1.4" fill="#ff0000"/><circle cx="95.6" cy="453.2" r="1.4" fill="#ff0000"/><circle cx="93.4" cy="456.9" r="1.4" fill="#ff0000"/><circle cx="95.6" cy="456.9" r="1.4" fill="#ff0000"/><circle cx="94.6" cy="460.3" r="1.4" fill="#ff0000"/><circle cx="86.7" cy="464.7" r="1.4" fill="#ff0000"/><circle cx="89.7" cy="465.3" r="1.4" fill="#ff0000"/><circle cx="91.8" cy="465.7" r="1.4" fill="#ff0000"/><circle cx="94.6" cy="466.4" r="1.4" fill="#ff0000"/><circle cx="96.9" cy="463.8" r="1.4" fill="#ff0000"/><circle cx="99.5" cy="465.9" r="1.4" fill="#ff0000"/><circle cx="102.2" cy="465.1" r="1.4" fill="#ff0000"/><circle cx="91" cy="469.3" r="1.4" fill="#ff0000"/><circle cx="93.4" cy="468.7" r="1.4" fill="#ff0000"/><circle cx="95.6" cy="467.2" r="1.4" fill="#ff0000"/><circle cx="98.2" cy="468.2" r="1.4" fill="#ff0000"/><circle cx="93.4" cy="471.9" r="1.4" fill="#ff0000"/><circle cx="95.6" cy="474.2" r="1.4" fill="#ff0000"/><circle cx="93.4" cy="478" r="1.4" fill="#ff0000"/><circle cx="95.6" cy="480.1" r="1.4" fill="#ff0000"/>
<circle cx="121.4" cy="442.9" r="1.4" fill="#22bb22"/><circle cx="118.8" cy="457.3" r="1.4" fill="#22bb22"/><circle cx="121.4" cy="457.1" r="1.4" fill="#22bb22"/><circle cx="123.3" cy="457.1" r="1.4" fill="#22bb22"/><circle cx="123.9" cy="460.3" r="1.4" fill="#22bb22"/><circle cx="118.8" cy="466.4" r="1.4" fill="#22bb22"/><circle cx="120.7" cy="467.5" r="1.4" fill="#22bb22"/><circle cx="123.9" cy="465.3" r="1.4" fill="#22bb22"/><circle cx="122.6" cy="470.8" r="1.4" fill="#22bb22"/><circle cx="121.4" cy="478.3" r="1.4" fill="#22bb22"/>
<circle cx="145.7" cy="461.4" r="1.4" fill="#9900ee"/><circle cx="148" cy="461.9" r="1.4" fill="#9900ee"/><circle cx="150.6" cy="463.6" r="1.4" fill="#9900ee"/><circle cx="148" cy="477" r="1.4" fill="#9900ee"/>
<circle cx="174.8" cy="429.5" r="1.4" fill="#f57300"/><circle cx="174.8" cy="448.6" r="1.4" fill="#f57300"/><circle cx="174.8" cy="458.1" r="1.4" fill="#f57300"/><circle cx="172.3" cy="461.4" r="1.4" fill="#f57300"/><circle cx="177.4" cy="460.7" r="1.4" fill="#f57300"/><circle cx="173.6" cy="463.2" r="1.4" fill="#f57300"/><circle cx="176.1" cy="465.6" r="1.4" fill="#f57300"/><circle cx="172.3" cy="468.5" r="1.4" fill="#f57300"/><circle cx="174.8" cy="468.7" r="1.4" fill="#f57300"/><circle cx="177.4" cy="468.7" r="1.4" fill="#f57300"/>
<circle cx="194.3" cy="470.1" r="1.3" fill="#8f8f8f"/><circle cx="197.2" cy="470.5" r="1.3" fill="#8f8f8f"/><circle cx="200.4" cy="469.2" r="1.3" fill="#8f8f8f"/><circle cx="201.7" cy="468.2" r="1.3" fill="#8f8f8f"/><circle cx="203.2" cy="471.4" r="1.3" fill="#8f8f8f"/><circle cx="205.9" cy="470.9" r="1.3" fill="#8f8f8f"/><circle cx="209.1" cy="470.9" r="1.3" fill="#8f8f8f"/><circle cx="203.2" cy="472.8" r="1.3" fill="#8f8f8f"/><circle cx="205.9" cy="473.1" r="1.3" fill="#8f8f8f"/><circle cx="197.2" cy="473.7" r="1.3" fill="#8f8f8f"/><circle cx="200.4" cy="475.6" r="1.3" fill="#8f8f8f"/><circle cx="203.8" cy="476.4" r="1.3" fill="#8f8f8f"/><circle cx="200" cy="478.3" r="1.3" fill="#8f8f8f"/><circle cx="203.2" cy="478.8" r="1.3" fill="#8f8f8f"/><circle cx="200" cy="480.7" r="1.3" fill="#8f8f8f"/><circle cx="194.3" cy="482.6" r="1.3" fill="#8f8f8f"/><circle cx="197.2" cy="483.6" r="1.3" fill="#8f8f8f"/><circle cx="200.4" cy="483.6" r="1.3" fill="#8f8f8f"/><circle cx="203.2" cy="482.8" r="1.3" fill="#8f8f8f"/><circle cx="194.3" cy="486.2" r="1.3" fill="#8f8f8f"/><circle cx="197.2" cy="486.6" r="1.3" fill="#8f8f8f"/><circle cx="200.4" cy="486.4" r="1.3" fill="#8f8f8f"/><circle cx="203.2" cy="486" r="1.3" fill="#8f8f8f"/><circle cx="205.9" cy="485.1" r="1.3" fill="#8f8f8f"/><circle cx="205.9" cy="487" r="1.3" fill="#8f8f8f"/><circle cx="209.1" cy="485.8" r="1.3" fill="#8f8f8f"/><circle cx="209.1" cy="487.2" r="1.3" fill="#8f8f8f"/><circle cx="209.1" cy="488.5" r="1.3" fill="#8f8f8f"/>
<text x="377.84" y="306.70" font-size="16.53" text-anchor="middle" class="b">Peptide 40_3</text>
<text transform="translate(253.70,403.25) rotate(-90)" font-size="13.1" text-anchor="middle" class="b">Optical Density</text>
<path d="M293.60 322.93V493.45" stroke="#262626" stroke-width="1.15" fill="none"/>
<path d="M290.60 493.45H463.80" stroke="#262626" stroke-width="1.15" fill="none"/>
<text x="290.00" y="498.20" font-size="12.9" text-anchor="end" class="b">0.0</text>
<text x="290.00" y="476.94" font-size="12.9" text-anchor="end" class="b">0.5</text>
<text x="290.00" y="455.69" font-size="12.9" text-anchor="end" class="b">1.0</text>
<text x="290.00" y="434.44" font-size="12.9" text-anchor="end" class="b">1.5</text>
<text x="290.00" y="413.19" font-size="12.9" text-anchor="end" class="b">2.0</text>
<text x="290.00" y="391.93" font-size="12.9" text-anchor="end" class="b">2.5</text>
<text x="290.00" y="370.68" font-size="12.9" text-anchor="end" class="b">3.0</text>
<text x="290.00" y="349.43" font-size="12.9" text-anchor="end" class="b">3.5</text>
<text x="290.00" y="328.18" font-size="12.9" text-anchor="end" class="b">4.0</text>
<text transform="translate(315.15,503.95) rotate(-45)" font-size="10.30" text-anchor="end" class="b" font-style="italic">O. lupi</text>
<text transform="translate(342.01,503.95) rotate(-45)" font-size="10.30" text-anchor="end" class="b" font-style="italic">D. immitis</text>
<text transform="translate(368.87,503.95) rotate(-45)" font-size="10.30" text-anchor="end" class="b" font-style="italic">D. repens</text>
<text transform="translate(395.73,503.95) rotate(-45)" font-size="10.30" text-anchor="end" class="b" font-style="italic">A. reconditum</text>
<text transform="translate(422.59,503.95) rotate(-45)" font-size="10.30" text-anchor="end" class="b" font-style="italic">C. bainae</text>
<text transform="translate(449.45,503.95) rotate(-45)" font-size="10.30" text-anchor="end" class="b">Negative sera</text>
<path d="M290.60 472.20H293.60M290.60 450.94H293.60M290.60 429.69H293.60M290.60 408.44H293.60M290.60 387.19H293.60M290.60 365.94H293.60M290.60 344.68H293.60M290.60 323.43H293.60M311.20 493.45V496.45M338.06 493.45V496.45M364.92 493.45V496.45M391.78 493.45V496.45M418.64 493.45V496.45M445.50 493.45V496.45" stroke="#2a2a2a" stroke-width="1.2" fill="none"/>
<path d="M294.60 463.40H463.80" stroke="#505050" stroke-width="1.0" stroke-dasharray="1.9 1.15" fill="none"/>
<circle cx="311.2" cy="369" r="1.4" fill="#0000ff"/><circle cx="311.2" cy="377.5" r="1.4" fill="#0000ff"/><circle cx="311.2" cy="380.7" r="1.4" fill="#0000ff"/><circle cx="309.9" cy="386" r="1.4" fill="#0000ff"/><circle cx="312.6" cy="388.8" r="1.4" fill="#0000ff"/><circle cx="311.2" cy="392.9" r="1.4" fill="#0000ff"/><circle cx="311.2" cy="396.5" r="1.4" fill="#0000ff"/><circle cx="309.9" cy="403.8" r="1.4" fill="#0000ff"/><circle cx="312.6" cy="404.9" r="1.4" fill="#0000ff"/><circle cx="309.9" cy="408.4" r="1.4" fill="#0000ff"/><circle cx="312.6" cy="410.7" r="1.4" fill="#0000ff"/><circle cx="311.2" cy="419.1" r="1.4" fill="#0000ff"/><circle cx="311.3" cy="422.6" r="1.4" fill="#0000ff"/><circle cx="311.3" cy="425.8" r="1.4" fill="#0000ff"/><circle cx="308.9" cy="426.9" r="1.4" fill="#0000ff"/><circle cx="303.4" cy="427.9" r="1.4" fill="#0000ff"/><circle cx="305.6" cy="427.9" r="1.4" fill="#0000ff"/><circle cx="307.7" cy="427.7" r="1.4" fill="#0000ff"/><circle cx="313.6" cy="427.9" r="1.4" fill="#0000ff"/><circle cx="316.2" cy="427.9" r="1.4" fill="#0000ff"/><circle cx="318.9" cy="427.7" r="1.4" fill="#0000ff"/><circle cx="311.3" cy="429" r="1.4" fill="#0000ff"/><circle cx="308.9" cy="430.7" r="1.4" fill="#0000ff"/><circle cx="311.3" cy="430.7" r="1.4" fill="#0000ff"/><circle cx="313.9" cy="433" r="1.4" fill="#0000ff"/><circle cx="310" cy="434.3" r="1.4" fill="#0000ff"/><circle cx="315.1" cy="434.9" r="1.4" fill="#0000ff"/><circle cx="307.4" cy="436" r="1.4" fill="#0000ff"/><circle cx="312.5" cy="436.2" r="1.4" fill="#0000ff"/><circle cx="307.4" cy="439.2" r="1.4" fill="#0000ff"/><circle cx="310" cy="439.6" r="1.4" fill="#0000ff"/><circle cx="312.5" cy="438.6" r="1.4" fill="#0000ff"/><circle cx="315.1" cy="440.3" r="1.4" fill="#0000ff"/><circle cx="311.3" cy="441.3" r="1.4" fill="#0000ff"/><circle cx="308.9" cy="442" r="1.4" fill="#0000ff"/><circle cx="307.4" cy="443.6" r="1.4" fill="#0000ff"/><circle cx="315.1" cy="443.8" r="1.4" fill="#0000ff"/><circle cx="310" cy="446.8" r="1.4" fill="#0000ff"/><circle cx="312.5" cy="447.6" r="1.4" fill="#0000ff"/><circle cx="307.4" cy="452.7" r="1.4" fill="#0000ff"/><circle cx="310" cy="454" r="1.4" fill="#0000ff"/><circle cx="312.5" cy="453.8" r="1.4" fill="#0000ff"/><circle cx="315.1" cy="455.3" r="1.4" fill="#0000ff"/><circle cx="307.4" cy="458.1" r="1.4" fill="#0000ff"/><circle cx="310" cy="458.2" r="1.4" fill="#0000ff"/><circle cx="315.1" cy="457.8" r="1.4" fill="#0000ff"/><circle cx="312.5" cy="459.5" r="1.4" fill="#0000ff"/><circle cx="311.3" cy="460.8" r="1.4" fill="#0000ff"/><circle cx="313.9" cy="461.6" r="1.4" fill="#0000ff"/><circle cx="308.9" cy="463.1" r="1.4" fill="#0000ff"/><circle cx="311.3" cy="464.6" r="1.4" fill="#0000ff"/><circle cx="313.9" cy="465.8" r="1.4" fill="#0000ff"/><circle cx="310" cy="469.2" r="1.4" fill="#0000ff"/><circle cx="312.5" cy="469.7" r="1.4" fill="#0000ff"/>
<circle cx="337.9" cy="441.3" r="1.4" fill="#ff0000"/><circle cx="337.9" cy="445.9" r="1.4" fill="#ff0000"/><circle cx="336.2" cy="448" r="1.4" fill="#ff0000"/><circle cx="334.4" cy="451.9" r="1.4" fill="#ff0000"/><circle cx="337.9" cy="451.4" r="1.4" fill="#ff0000"/><circle cx="340.5" cy="451.4" r="1.4" fill="#ff0000"/><circle cx="345.2" cy="452.1" r="1.4" fill="#ff0000"/><circle cx="331" cy="454" r="1.4" fill="#ff0000"/><circle cx="336.2" cy="456.1" r="1.4" fill="#ff0000"/><circle cx="339.9" cy="456.9" r="1.4" fill="#ff0000"/><circle cx="332.7" cy="459.1" r="1.4" fill="#ff0000"/><circle cx="336.2" cy="459.7" r="1.4" fill="#ff0000"/><circle cx="339.9" cy="459.1" r="1.4" fill="#ff0000"/><circle cx="343.3" cy="459.2" r="1.4" fill="#ff0000"/><circle cx="331" cy="464.3" r="1.4" fill="#ff0000"/><circle cx="334.4" cy="464.6" r="1.4" fill="#ff0000"/><circle cx="337.9" cy="464" r="1.4" fill="#ff0000"/><circle cx="341.6" cy="465.7" r="1.4" fill="#ff0000"/><circle cx="345.2" cy="466" r="1.4" fill="#ff0000"/><circle cx="343.3" cy="468" r="1.4" fill="#ff0000"/><circle cx="332.7" cy="468.2" r="1.4" fill="#ff0000"/><circle cx="336.2" cy="469.4" r="1.4" fill="#ff0000"/><circle cx="339.9" cy="469.7" r="1.4" fill="#ff0000"/><circle cx="338" cy="475.3" r="1.4" fill="#ff0000"/><circle cx="338" cy="483.1" r="1.4" fill="#ff0000"/>
<circle cx="364.8" cy="438.5" r="1.4" fill="#22bb22"/><circle cx="364.8" cy="445" r="1.4" fill="#22bb22"/><circle cx="364.8" cy="448.1" r="1.4" fill="#22bb22"/><circle cx="363.6" cy="454.2" r="1.4" fill="#22bb22"/><circle cx="366.1" cy="456.6" r="1.4" fill="#22bb22"/><circle cx="362.3" cy="462" r="1.4" fill="#22bb22"/><circle cx="364.8" cy="461.5" r="1.4" fill="#22bb22"/><circle cx="367.4" cy="460.7" r="1.4" fill="#22bb22"/><circle cx="364.8" cy="467" r="1.4" fill="#22bb22"/><circle cx="363.6" cy="472.4" r="1.4" fill="#22bb22"/><circle cx="366.1" cy="474.7" r="1.4" fill="#22bb22"/><circle cx="364.8" cy="480.1" r="1.4" fill="#22bb22"/>
<circle cx="390.5" cy="454.3" r="1.4" fill="#9900ee"/><circle cx="392.8" cy="455.2" r="1.4" fill="#9900ee"/><circle cx="391.5" cy="459.4" r="1.4" fill="#9900ee"/><circle cx="391.5" cy="471.7" r="1.4" fill="#9900ee"/>
<circle cx="418.3" cy="432.3" r="1.4" fill="#f57300"/><circle cx="418.3" cy="441.8" r="1.4" fill="#f57300"/><circle cx="418.3" cy="446.2" r="1.4" fill="#f57300"/><circle cx="416.6" cy="452.2" r="1.4" fill="#f57300"/><circle cx="420.3" cy="454.5" r="1.4" fill="#f57300"/><circle cx="418.3" cy="459" r="1.4" fill="#f57300"/><circle cx="411.2" cy="460.7" r="1.4" fill="#f57300"/><circle cx="414.8" cy="461.6" r="1.4" fill="#f57300"/><circle cx="418.3" cy="461.6" r="1.4" fill="#f57300"/><circle cx="421.9" cy="462.5" r="1.4" fill="#f57300"/><circle cx="425.5" cy="463.1" r="1.4" fill="#f57300"/>
<circle cx="437.9" cy="473.8" r="1.3" fill="#8f8f8f"/><circle cx="440.6" cy="474.1" r="1.3" fill="#8f8f8f"/><circle cx="443.7" cy="473.2" r="1.3" fill="#8f8f8f"/><circle cx="446.6" cy="472.7" r="1.3" fill="#8f8f8f"/><circle cx="449.7" cy="471.6" r="1.3" fill="#8f8f8f"/><circle cx="452.9" cy="473.4" r="1.3" fill="#8f8f8f"/><circle cx="439.3" cy="475.9" r="1.3" fill="#8f8f8f"/><circle cx="442.2" cy="476.5" r="1.3" fill="#8f8f8f"/><circle cx="448.1" cy="475.9" r="1.3" fill="#8f8f8f"/><circle cx="445" cy="478" r="1.3" fill="#8f8f8f"/><circle cx="451.1" cy="477.7" r="1.3" fill="#8f8f8f"/><circle cx="439.3" cy="479.2" r="1.3" fill="#8f8f8f"/><circle cx="437.9" cy="481.4" r="1.3" fill="#8f8f8f"/><circle cx="441" cy="482.3" r="1.3" fill="#8f8f8f"/><circle cx="443.7" cy="482.7" r="1.3" fill="#8f8f8f"/><circle cx="446.6" cy="481.2" r="1.3" fill="#8f8f8f"/><circle cx="449.7" cy="480.9" r="1.3" fill="#8f8f8f"/><circle cx="449.7" cy="483.6" r="1.3" fill="#8f8f8f"/><circle cx="452.9" cy="483.9" r="1.3" fill="#8f8f8f"/><circle cx="442.2" cy="481.2" r="1.3" fill="#8f8f8f"/><circle cx="452.5" cy="480.5" r="1.3" fill="#8f8f8f"/>
<text x="621.75" y="307.00" font-size="16.59" text-anchor="middle" class="b">Peptide 40_5</text>
<text transform="translate(497.02,403.00) rotate(-90)" font-size="13.17" text-anchor="middle" class="b">Optical Density</text>
<path d="M536.92 322.93V493.45" stroke="#4a4a4a" stroke-width="1.55" fill="none"/>
<path d="M533.92 493.45H706.90" stroke="#262626" stroke-width="1.15" fill="none"/>
<text x="533.32" y="498.20" font-size="12.9" text-anchor="end" class="b">0.0</text>
<text x="533.32" y="476.94" font-size="12.9" text-anchor="end" class="b">0.5</text>
<text x="533.32" y="455.69" font-size="12.9" text-anchor="end" class="b">1.0</text>
<text x="533.32" y="434.44" font-size="12.9" text-anchor="end" class="b">1.5</text>
<text x="533.32" y="413.19" font-size="12.9" text-anchor="end" class="b">2.0</text>
<text x="533.32" y="391.93" font-size="12.9" text-anchor="end" class="b">2.5</text>
<text x="533.32" y="370.68" font-size="12.9" text-anchor="end" class="b">3.0</text>
<text x="533.32" y="349.43" font-size="12.9" text-anchor="end" class="b">3.5</text>
<text x="533.32" y="328.18" font-size="12.9" text-anchor="end" class="b">4.0</text>
<text transform="translate(558.25,503.95) rotate(-45)" font-size="10.30" text-anchor="end" class="b" font-style="italic">O. lupi</text>
<text transform="translate(585.07,503.95) rotate(-45)" font-size="10.30" text-anchor="end" class="b" font-style="italic">D. immitis</text>
<text transform="translate(611.89,503.95) rotate(-45)" font-size="10.30" text-anchor="end" class="b" font-style="italic">D. repens</text>
<text transform="translate(638.71,503.95) rotate(-45)" font-size="10.30" text-anchor="end" class="b" font-style="italic">A. reconditum</text>
<text transform="translate(665.53,503.95) rotate(-45)" font-size="10.30" text-anchor="end" class="b" font-style="italic">C. bainae</text>
<text transform="translate(692.35,503.95) rotate(-45)" font-size="10.30" text-anchor="end" class="b">Negative sera</text>
<path d="M533.92 472.20H536.92M533.92 450.94H536.92M533.92 429.69H536.92M533.92 408.44H536.92M533.92 387.19H536.92M533.92 365.94H536.92M533.92 344.68H536.92M533.92 323.43H536.92M554.30 493.45V496.45M581.12 493.45V496.45M607.94 493.45V496.45M634.76 493.45V496.45M661.58 493.45V496.45M688.40 493.45V496.45" stroke="#2a2a2a" stroke-width="1.2" fill="none"/>
<path d="M537.92 460.90H706.90" stroke="#8c8c8c" stroke-width="1.3" stroke-dasharray="1.9 1.15" fill="none"/>
<circle cx="554.6" cy="370.9" r="1.4" fill="#0000ff"/><circle cx="554.6" cy="376.5" r="1.4" fill="#0000ff"/><circle cx="551.5" cy="384.9" r="1.4" fill="#0000ff"/><circle cx="557.7" cy="384.9" r="1.4" fill="#0000ff"/><circle cx="554.6" cy="387.1" r="1.4" fill="#0000ff"/><circle cx="553.2" cy="394.9" r="1.4" fill="#0000ff"/><circle cx="556.2" cy="393.1" r="1.4" fill="#0000ff"/><circle cx="554.6" cy="398.5" r="1.4" fill="#0000ff"/><circle cx="554.6" cy="403.1" r="1.4" fill="#0000ff"/><circle cx="553.2" cy="406.9" r="1.4" fill="#0000ff"/><circle cx="556.2" cy="407.4" r="1.4" fill="#0000ff"/><circle cx="553.2" cy="410.7" r="1.4" fill="#0000ff"/><circle cx="556.2" cy="411.1" r="1.4" fill="#0000ff"/><circle cx="554.6" cy="418.4" r="1.4" fill="#0000ff"/><circle cx="554.6" cy="421.1" r="1.4" fill="#0000ff"/><circle cx="551.7" cy="424.3" r="1.4" fill="#0000ff"/><circle cx="557.6" cy="423.5" r="1.4" fill="#0000ff"/><circle cx="554.6" cy="425.8" r="1.4" fill="#0000ff"/><circle cx="557.6" cy="428.1" r="1.4" fill="#0000ff"/><circle cx="554.6" cy="428.7" r="1.4" fill="#0000ff"/><circle cx="551.7" cy="430.3" r="1.4" fill="#0000ff"/><circle cx="553.1" cy="433.2" r="1.4" fill="#0000ff"/><circle cx="556.2" cy="434.3" r="1.4" fill="#0000ff"/><circle cx="551.7" cy="437.7" r="1.4" fill="#0000ff"/><circle cx="554.6" cy="437.7" r="1.4" fill="#0000ff"/><circle cx="556.2" cy="438.6" r="1.4" fill="#0000ff"/><circle cx="557.6" cy="436.9" r="1.4" fill="#0000ff"/><circle cx="553.1" cy="440.6" r="1.4" fill="#0000ff"/><circle cx="556.2" cy="442" r="1.4" fill="#0000ff"/><circle cx="550" cy="443" r="1.4" fill="#0000ff"/><circle cx="553.1" cy="444.2" r="1.4" fill="#0000ff"/><circle cx="556.2" cy="445.3" r="1.4" fill="#0000ff"/><circle cx="559.1" cy="444.5" r="1.4" fill="#0000ff"/><circle cx="547" cy="446.8" r="1.4" fill="#0000ff"/><circle cx="550" cy="447" r="1.4" fill="#0000ff"/><circle cx="553.1" cy="446.8" r="1.4" fill="#0000ff"/><circle cx="561.8" cy="446.8" r="1.4" fill="#0000ff"/><circle cx="554.6" cy="450.2" r="1.4" fill="#0000ff"/><circle cx="553.1" cy="454" r="1.4" fill="#0000ff"/><circle cx="556.2" cy="453.8" r="1.4" fill="#0000ff"/><circle cx="557.6" cy="455.3" r="1.4" fill="#0000ff"/><circle cx="551.7" cy="456.5" r="1.4" fill="#0000ff"/><circle cx="554.6" cy="457" r="1.4" fill="#0000ff"/><circle cx="550" cy="459.2" r="1.4" fill="#0000ff"/><circle cx="553.1" cy="459.7" r="1.4" fill="#0000ff"/><circle cx="556.2" cy="459.9" r="1.4" fill="#0000ff"/><circle cx="559.1" cy="461.2" r="1.4" fill="#0000ff"/><circle cx="557.6" cy="463.1" r="1.4" fill="#0000ff"/><circle cx="551.7" cy="465.4" r="1.4" fill="#0000ff"/><circle cx="554.6" cy="465.7" r="1.4" fill="#0000ff"/><circle cx="553.1" cy="468.4" r="1.4" fill="#0000ff"/><circle cx="556.2" cy="468.6" r="1.4" fill="#0000ff"/><circle cx="554.6" cy="472.5" r="1.4" fill="#0000ff"/>
<circle cx="578.4" cy="449.9" r="1.4" fill="#ff0000"/><circle cx="581.3" cy="449.9" r="1.4" fill="#ff0000"/><circle cx="584.3" cy="448.9" r="1.4" fill="#ff0000"/><circle cx="579.9" cy="452.7" r="1.4" fill="#ff0000"/><circle cx="582.8" cy="454.7" r="1.4" fill="#ff0000"/><circle cx="582.8" cy="456.7" r="1.4" fill="#ff0000"/><circle cx="586" cy="456.5" r="1.4" fill="#ff0000"/><circle cx="588.7" cy="457" r="1.4" fill="#ff0000"/><circle cx="574" cy="457.8" r="1.4" fill="#ff0000"/><circle cx="577.1" cy="458.6" r="1.4" fill="#ff0000"/><circle cx="579.9" cy="458.9" r="1.4" fill="#ff0000"/><circle cx="578.4" cy="461.6" r="1.4" fill="#ff0000"/><circle cx="581.3" cy="461.2" r="1.4" fill="#ff0000"/><circle cx="584.3" cy="461.6" r="1.4" fill="#ff0000"/><circle cx="574" cy="463.1" r="1.4" fill="#ff0000"/><circle cx="577.1" cy="463.5" r="1.4" fill="#ff0000"/><circle cx="579.9" cy="463.7" r="1.4" fill="#ff0000"/><circle cx="582.8" cy="463.1" r="1.4" fill="#ff0000"/><circle cx="584.3" cy="462.9" r="1.4" fill="#ff0000"/><circle cx="582.8" cy="466.5" r="1.4" fill="#ff0000"/><circle cx="586" cy="465.7" r="1.4" fill="#ff0000"/><circle cx="588.7" cy="465.8" r="1.4" fill="#ff0000"/><circle cx="577.1" cy="469.9" r="1.4" fill="#ff0000"/><circle cx="579.9" cy="469.4" r="1.4" fill="#ff0000"/><circle cx="582.8" cy="470.8" r="1.4" fill="#ff0000"/><circle cx="586" cy="472" r="1.4" fill="#ff0000"/>
<circle cx="608.2" cy="429.3" r="1.4" fill="#22bb22"/><circle cx="608.2" cy="436.5" r="1.4" fill="#22bb22"/><circle cx="605.9" cy="445.6" r="1.4" fill="#22bb22"/><circle cx="608.4" cy="445.8" r="1.4" fill="#22bb22"/><circle cx="610.5" cy="446.9" r="1.4" fill="#22bb22"/><circle cx="609.7" cy="448" r="1.4" fill="#22bb22"/><circle cx="606.9" cy="450.5" r="1.4" fill="#22bb22"/><circle cx="608.2" cy="455.4" r="1.4" fill="#22bb22"/><circle cx="606.9" cy="466.8" r="1.4" fill="#22bb22"/><circle cx="609.4" cy="466.8" r="1.4" fill="#22bb22"/><circle cx="606.9" cy="471" r="1.4" fill="#22bb22"/><circle cx="609.4" cy="471" r="1.4" fill="#22bb22"/>
<circle cx="635.1" cy="460.8" r="1.4" fill="#9900ee"/><circle cx="633.8" cy="464.7" r="1.4" fill="#9900ee"/><circle cx="636.4" cy="466.8" r="1.4" fill="#9900ee"/><circle cx="635.1" cy="480.2" r="1.4" fill="#9900ee"/>
<circle cx="661.8" cy="426.9" r="1.4" fill="#f57300"/><circle cx="661.8" cy="454" r="1.4" fill="#f57300"/><circle cx="661.8" cy="460.2" r="1.4" fill="#f57300"/><circle cx="659.4" cy="463.4" r="1.4" fill="#f57300"/><circle cx="664.2" cy="462.5" r="1.4" fill="#f57300"/><circle cx="660.5" cy="468.5" r="1.4" fill="#f57300"/><circle cx="663.1" cy="468.5" r="1.4" fill="#f57300"/><circle cx="659.4" cy="470.9" r="1.4" fill="#f57300"/><circle cx="661.8" cy="471.6" r="1.4" fill="#f57300"/><circle cx="664.2" cy="472.9" r="1.4" fill="#f57300"/>
<circle cx="688.5" cy="463.6" r="1.3" fill="#8f8f8f"/><circle cx="688.5" cy="470.9" r="1.3" fill="#8f8f8f"/><circle cx="685.8" cy="476" r="1.3" fill="#8f8f8f"/><circle cx="688.5" cy="475.9" r="1.3" fill="#8f8f8f"/><circle cx="691.1" cy="475.6" r="1.3" fill="#8f8f8f"/><circle cx="680.9" cy="479.4" r="1.3" fill="#8f8f8f"/><circle cx="683.6" cy="479.8" r="1.3" fill="#8f8f8f"/><circle cx="686.7" cy="479.2" r="1.3" fill="#8f8f8f"/><circle cx="691.1" cy="480.1" r="1.3" fill="#8f8f8f"/><circle cx="688.5" cy="481.4" r="1.3" fill="#8f8f8f"/><circle cx="693.6" cy="481.8" r="1.3" fill="#8f8f8f"/><circle cx="696" cy="480.7" r="1.3" fill="#8f8f8f"/><circle cx="685.8" cy="483.9" r="1.3" fill="#8f8f8f"/><circle cx="680.9" cy="485.8" r="1.3" fill="#8f8f8f"/><circle cx="683.6" cy="486.3" r="1.3" fill="#8f8f8f"/><circle cx="686.7" cy="485.8" r="1.3" fill="#8f8f8f"/><circle cx="689.8" cy="485.4" r="1.3" fill="#8f8f8f"/><circle cx="691.1" cy="486.9" r="1.3" fill="#8f8f8f"/><circle cx="693.6" cy="485.7" r="1.3" fill="#8f8f8f"/><circle cx="696" cy="488.1" r="1.3" fill="#8f8f8f"/>
<text x="134.05" y="595.20" font-size="16.25" text-anchor="middle" class="b">Peptide 120_1</text>
<text transform="translate(10.30,690.90) rotate(-90)" font-size="12.98" text-anchor="middle" class="b">Optical Density</text>
<path d="M50.20 610.93V781.35" stroke="#333" stroke-width="1.3" fill="none"/>
<path d="M47.20 781.35H219.90" stroke="#262626" stroke-width="1.15" fill="none"/>
<text x="46.60" y="786.10" font-size="12.9" text-anchor="end" class="b">0.0</text>
<text x="46.60" y="764.86" font-size="12.9" text-anchor="end" class="b">0.5</text>
<text x="46.60" y="743.62" font-size="12.9" text-anchor="end" class="b">1.0</text>
<text x="46.60" y="722.38" font-size="12.9" text-anchor="end" class="b">1.5</text>
<text x="46.60" y="701.14" font-size="12.9" text-anchor="end" class="b">2.0</text>
<text x="46.60" y="679.90" font-size="12.9" text-anchor="end" class="b">2.5</text>
<text x="46.60" y="658.66" font-size="12.9" text-anchor="end" class="b">3.0</text>
<text x="46.60" y="637.42" font-size="12.9" text-anchor="end" class="b">3.5</text>
<text x="46.60" y="616.18" font-size="12.9" text-anchor="end" class="b">4.0</text>
<text transform="translate(71.70,791.85) rotate(-45)" font-size="10.30" text-anchor="end" class="b" font-style="italic">O. lupi</text>
<text transform="translate(98.51,791.85) rotate(-45)" font-size="10.30" text-anchor="end" class="b" font-style="italic">D. immitis</text>
<text transform="translate(125.32,791.85) rotate(-45)" font-size="10.30" text-anchor="end" class="b" font-style="italic">D. repens</text>
<text transform="translate(152.13,791.85) rotate(-45)" font-size="10.30" text-anchor="end" class="b" font-style="italic">A. reconditum</text>
<text transform="translate(178.94,791.85) rotate(-45)" font-size="10.30" text-anchor="end" class="b" font-style="italic">C. bainae</text>
<text transform="translate(205.75,791.85) rotate(-45)" font-size="10.30" text-anchor="end" class="b">Negative sera</text>
<path d="M47.20 760.11H50.20M47.20 738.87H50.20M47.20 717.63H50.20M47.20 696.39H50.20M47.20 675.15H50.20M47.20 653.91H50.20M47.20 632.67H50.20M47.20 611.43H50.20M67.75 781.35V784.35M94.56 781.35V784.35M121.37 781.35V784.35M148.18 781.35V784.35M174.99 781.35V784.35M201.80 781.35V784.35" stroke="#2a2a2a" stroke-width="1.2" fill="none"/>
<path d="M51.20 752.30H219.90" stroke="#505050" stroke-width="1.0" stroke-dasharray="1.9 1.15" fill="none"/>
<circle cx="64.3" cy="680.2" r="1.4" fill="#0000ff"/><circle cx="71.5" cy="681" r="1.4" fill="#0000ff"/><circle cx="67.9" cy="682.5" r="1.4" fill="#0000ff"/><circle cx="67.9" cy="685.7" r="1.4" fill="#0000ff"/><circle cx="64.3" cy="694.6" r="1.4" fill="#0000ff"/><circle cx="67.9" cy="695.3" r="1.4" fill="#0000ff"/><circle cx="71.5" cy="695.6" r="1.4" fill="#0000ff"/><circle cx="64.3" cy="700.5" r="1.4" fill="#0000ff"/><circle cx="67.9" cy="701.5" r="1.4" fill="#0000ff"/><circle cx="71.5" cy="702.2" r="1.4" fill="#0000ff"/><circle cx="62.6" cy="706.4" r="1.4" fill="#0000ff"/><circle cx="66" cy="705.6" r="1.4" fill="#0000ff"/><circle cx="69.6" cy="705.6" r="1.4" fill="#0000ff"/><circle cx="73.2" cy="708" r="1.4" fill="#0000ff"/><circle cx="66" cy="709.7" r="1.4" fill="#0000ff"/><circle cx="62.6" cy="712.4" r="1.4" fill="#0000ff"/><circle cx="69.6" cy="712.2" r="1.4" fill="#0000ff"/><circle cx="73.2" cy="712.4" r="1.4" fill="#0000ff"/><circle cx="62.6" cy="718.4" r="1.4" fill="#0000ff"/><circle cx="66" cy="719.1" r="1.4" fill="#0000ff"/><circle cx="69.6" cy="718.8" r="1.4" fill="#0000ff"/><circle cx="73.2" cy="718.6" r="1.4" fill="#0000ff"/><circle cx="62.6" cy="721.1" r="1.4" fill="#0000ff"/><circle cx="66" cy="722.5" r="1.4" fill="#0000ff"/><circle cx="69.6" cy="721.1" r="1.4" fill="#0000ff"/><circle cx="73.2" cy="721.8" r="1.4" fill="#0000ff"/><circle cx="69.6" cy="723.6" r="1.4" fill="#0000ff"/><circle cx="66" cy="725.6" r="1.4" fill="#0000ff"/><circle cx="64.3" cy="728.4" r="1.4" fill="#0000ff"/><circle cx="71.5" cy="729.2" r="1.4" fill="#0000ff"/><circle cx="60.9" cy="730.3" r="1.4" fill="#0000ff"/><circle cx="67.9" cy="730.9" r="1.4" fill="#0000ff"/><circle cx="75.1" cy="730.9" r="1.4" fill="#0000ff"/><circle cx="67.9" cy="733.8" r="1.4" fill="#0000ff"/><circle cx="71.5" cy="733.5" r="1.4" fill="#0000ff"/><circle cx="64.3" cy="735.5" r="1.4" fill="#0000ff"/><circle cx="64.3" cy="737.5" r="1.4" fill="#0000ff"/><circle cx="71.5" cy="737.2" r="1.4" fill="#0000ff"/><circle cx="67.9" cy="739.7" r="1.4" fill="#0000ff"/><circle cx="60.9" cy="742.3" r="1.4" fill="#0000ff"/><circle cx="64.3" cy="742.8" r="1.4" fill="#0000ff"/><circle cx="71.5" cy="742.8" r="1.4" fill="#0000ff"/><circle cx="67.9" cy="744.8" r="1.4" fill="#0000ff"/><circle cx="75.1" cy="744.8" r="1.4" fill="#0000ff"/><circle cx="69.6" cy="748" r="1.4" fill="#0000ff"/><circle cx="66" cy="748.9" r="1.4" fill="#0000ff"/><circle cx="64.3" cy="750.4" r="1.4" fill="#0000ff"/><circle cx="67.9" cy="752.1" r="1.4" fill="#0000ff"/><circle cx="71.5" cy="752.3" r="1.4" fill="#0000ff"/><circle cx="71.5" cy="754.7" r="1.4" fill="#0000ff"/><circle cx="64.3" cy="755.5" r="1.4" fill="#0000ff"/><circle cx="67.9" cy="756.1" r="1.4" fill="#0000ff"/><circle cx="64.3" cy="763.5" r="1.4" fill="#0000ff"/><circle cx="67.9" cy="763.7" r="1.4" fill="#0000ff"/><circle cx="71.5" cy="765.7" r="1.4" fill="#0000ff"/>
<circle cx="96.5" cy="682.7" r="1.4" fill="#ff0000"/><circle cx="92.8" cy="684.8" r="1.4" fill="#ff0000"/><circle cx="94.6" cy="692" r="1.4" fill="#ff0000"/><circle cx="94.6" cy="701.2" r="1.4" fill="#ff0000"/><circle cx="96.5" cy="703.5" r="1.4" fill="#ff0000"/><circle cx="92.8" cy="705.2" r="1.4" fill="#ff0000"/><circle cx="92.8" cy="706.9" r="1.4" fill="#ff0000"/><circle cx="96.5" cy="709.4" r="1.4" fill="#ff0000"/><circle cx="94.6" cy="716.1" r="1.4" fill="#ff0000"/><circle cx="94.6" cy="726.4" r="1.4" fill="#ff0000"/><circle cx="92.8" cy="729.8" r="1.4" fill="#ff0000"/><circle cx="96.5" cy="730.7" r="1.4" fill="#ff0000"/><circle cx="87.4" cy="733.2" r="1.4" fill="#ff0000"/><circle cx="91" cy="734.1" r="1.4" fill="#ff0000"/><circle cx="94.6" cy="735.8" r="1.4" fill="#ff0000"/><circle cx="98.2" cy="735.2" r="1.4" fill="#ff0000"/><circle cx="101.8" cy="733.2" r="1.4" fill="#ff0000"/><circle cx="94.6" cy="747.9" r="1.4" fill="#ff0000"/><circle cx="92.8" cy="749.9" r="1.4" fill="#ff0000"/><circle cx="96.5" cy="749.9" r="1.4" fill="#ff0000"/><circle cx="89.3" cy="751.3" r="1.4" fill="#ff0000"/><circle cx="100.1" cy="749.9" r="1.4" fill="#ff0000"/><circle cx="89.3" cy="758.9" r="1.4" fill="#ff0000"/><circle cx="92.8" cy="758.9" r="1.4" fill="#ff0000"/><circle cx="96.5" cy="760.9" r="1.4" fill="#ff0000"/><circle cx="100.1" cy="760.9" r="1.4" fill="#ff0000"/>
<circle cx="121.4" cy="674.6" r="1.4" fill="#22bb22"/><circle cx="122.6" cy="709.1" r="1.4" fill="#22bb22"/><circle cx="120.3" cy="711.4" r="1.4" fill="#22bb22"/><circle cx="121.4" cy="725.3" r="1.4" fill="#22bb22"/><circle cx="119" cy="728.1" r="1.4" fill="#22bb22"/><circle cx="123.7" cy="728.1" r="1.4" fill="#22bb22"/><circle cx="121.4" cy="735.6" r="1.4" fill="#22bb22"/><circle cx="121.4" cy="739.6" r="1.4" fill="#22bb22"/><circle cx="121.4" cy="747.2" r="1.4" fill="#22bb22"/><circle cx="121.4" cy="756.4" r="1.4" fill="#22bb22"/><circle cx="121.4" cy="770.9" r="1.4" fill="#22bb22"/>
<circle cx="148.3" cy="718.6" r="1.4" fill="#9900ee"/><circle cx="148.3" cy="730.4" r="1.4" fill="#9900ee"/><circle cx="148.3" cy="736.6" r="1.4" fill="#9900ee"/><circle cx="148.3" cy="764.7" r="1.4" fill="#9900ee"/>
<circle cx="175.1" cy="645.9" r="1.4" fill="#f57300"/><circle cx="173.8" cy="714" r="1.4" fill="#f57300"/><circle cx="176.6" cy="715" r="1.4" fill="#f57300"/><circle cx="175" cy="724.9" r="1.4" fill="#f57300"/><circle cx="175" cy="728.2" r="1.4" fill="#f57300"/><circle cx="175" cy="733.3" r="1.4" fill="#f57300"/><circle cx="173.8" cy="738" r="1.4" fill="#f57300"/><circle cx="176.6" cy="739" r="1.4" fill="#f57300"/><circle cx="175" cy="743" r="1.4" fill="#f57300"/><circle cx="175" cy="750.5" r="1.4" fill="#f57300"/><circle cx="175" cy="760.5" r="1.4" fill="#f57300"/>
<circle cx="200.6" cy="759" r="1.3" fill="#8f8f8f"/><circle cx="202.8" cy="760.9" r="1.3" fill="#8f8f8f"/><circle cx="199.5" cy="762.5" r="1.3" fill="#8f8f8f"/><circle cx="197.1" cy="763.7" r="1.3" fill="#8f8f8f"/><circle cx="201.8" cy="763.5" r="1.3" fill="#8f8f8f"/><circle cx="206.2" cy="764.1" r="1.3" fill="#8f8f8f"/><circle cx="197.5" cy="765.7" r="1.3" fill="#8f8f8f"/><circle cx="199.9" cy="765.3" r="1.3" fill="#8f8f8f"/><circle cx="203" cy="765.9" r="1.3" fill="#8f8f8f"/><circle cx="205" cy="766.3" r="1.3" fill="#8f8f8f"/><circle cx="193.9" cy="768.5" r="1.3" fill="#8f8f8f"/><circle cx="198.3" cy="767.5" r="1.3" fill="#8f8f8f"/><circle cx="201" cy="767.9" r="1.3" fill="#8f8f8f"/><circle cx="203.8" cy="767.7" r="1.3" fill="#8f8f8f"/><circle cx="206.6" cy="768.3" r="1.3" fill="#8f8f8f"/><circle cx="209.7" cy="769.8" r="1.3" fill="#8f8f8f"/><circle cx="196.3" cy="769.8" r="1.3" fill="#8f8f8f"/><circle cx="199.1" cy="769" r="1.3" fill="#8f8f8f"/><circle cx="205" cy="769.6" r="1.3" fill="#8f8f8f"/><circle cx="197.5" cy="771.4" r="1.3" fill="#8f8f8f"/><circle cx="200.3" cy="771.8" r="1.3" fill="#8f8f8f"/><circle cx="203" cy="772.2" r="1.3" fill="#8f8f8f"/><circle cx="206.2" cy="773.8" r="1.3" fill="#8f8f8f"/><circle cx="199.5" cy="772.8" r="1.3" fill="#8f8f8f"/><circle cx="203.8" cy="773" r="1.3" fill="#8f8f8f"/>
<text x="377.80" y="594.90" font-size="16.42" text-anchor="middle" class="b">Peptide 120_3</text>
<text transform="translate(253.60,691.25) rotate(-90)" font-size="13.07" text-anchor="middle" class="b">Optical Density</text>
<path d="M293.50 610.93V781.05" stroke="#262626" stroke-width="1.15" fill="none"/>
<path d="M290.50 781.05H463.40" stroke="#4a4a4a" stroke-width="1.55" fill="none"/>
<text x="289.90" y="785.80" font-size="12.9" text-anchor="end" class="b">0.0</text>
<text x="289.90" y="764.59" font-size="12.9" text-anchor="end" class="b">0.5</text>
<text x="289.90" y="743.39" font-size="12.9" text-anchor="end" class="b">1.0</text>
<text x="289.90" y="722.19" font-size="12.9" text-anchor="end" class="b">1.5</text>
<text x="289.90" y="700.99" font-size="12.9" text-anchor="end" class="b">2.0</text>
<text x="289.90" y="679.78" font-size="12.9" text-anchor="end" class="b">2.5</text>
<text x="289.90" y="658.58" font-size="12.9" text-anchor="end" class="b">3.0</text>
<text x="289.90" y="637.38" font-size="12.9" text-anchor="end" class="b">3.5</text>
<text x="289.90" y="616.18" font-size="12.9" text-anchor="end" class="b">4.0</text>
<text transform="translate(314.85,791.55) rotate(-45)" font-size="10.30" text-anchor="end" class="b" font-style="italic">O. lupi</text>
<text transform="translate(341.69,791.55) rotate(-45)" font-size="10.30" text-anchor="end" class="b" font-style="italic">D. immitis</text>
<text transform="translate(368.53,791.55) rotate(-45)" font-size="10.30" text-anchor="end" class="b" font-style="italic">D. repens</text>
<text transform="translate(395.37,791.55) rotate(-45)" font-size="10.30" text-anchor="end" class="b" font-style="italic">A. reconditum</text>
<text transform="translate(422.21,791.55) rotate(-45)" font-size="10.30" text-anchor="end" class="b" font-style="italic">C. bainae</text>
<text transform="translate(449.05,791.55) rotate(-45)" font-size="10.30" text-anchor="end" class="b">Negative sera</text>
<path d="M290.50 759.85H293.50M290.50 738.64H293.50M290.50 717.44H293.50M290.50 696.24H293.50M290.50 675.04H293.50M290.50 653.83H293.50M290.50 632.63H293.50M290.50 611.43H293.50M310.90 781.05V784.05M337.74 781.05V784.05M364.58 781.05V784.05M391.42 781.05V784.05M418.26 781.05V784.05M445.10 781.05V784.05" stroke="#2a2a2a" stroke-width="1.2" fill="none"/>
<path d="M294.50 752.40H463.40" stroke="#505050" stroke-width="1.0" stroke-dasharray="1.9 1.15" fill="none"/>
<circle cx="311.1" cy="685.3" r="1.4" fill="#0000ff"/><circle cx="311.1" cy="695.8" r="1.4" fill="#0000ff"/><circle cx="309.7" cy="702" r="1.4" fill="#0000ff"/><circle cx="312.5" cy="702.1" r="1.4" fill="#0000ff"/><circle cx="306" cy="706.2" r="1.4" fill="#0000ff"/><circle cx="308.7" cy="707.6" r="1.4" fill="#0000ff"/><circle cx="311.1" cy="705.9" r="1.4" fill="#0000ff"/><circle cx="313.8" cy="707.6" r="1.4" fill="#0000ff"/><circle cx="316.3" cy="708.7" r="1.4" fill="#0000ff"/><circle cx="307.2" cy="712.3" r="1.4" fill="#0000ff"/><circle cx="309.7" cy="711.9" r="1.4" fill="#0000ff"/><circle cx="312.5" cy="711.9" r="1.4" fill="#0000ff"/><circle cx="315.1" cy="713" r="1.4" fill="#0000ff"/><circle cx="309.7" cy="716.5" r="1.4" fill="#0000ff"/><circle cx="312.5" cy="718" r="1.4" fill="#0000ff"/><circle cx="309.7" cy="724.1" r="1.4" fill="#0000ff"/><circle cx="312.5" cy="723.8" r="1.4" fill="#0000ff"/><circle cx="308.7" cy="725.9" r="1.4" fill="#0000ff"/><circle cx="313.8" cy="726.8" r="1.4" fill="#0000ff"/><circle cx="311.1" cy="728.5" r="1.4" fill="#0000ff"/><circle cx="308.7" cy="730.8" r="1.4" fill="#0000ff"/><circle cx="313.8" cy="731.7" r="1.4" fill="#0000ff"/><circle cx="308.7" cy="735.7" r="1.4" fill="#0000ff"/><circle cx="316.3" cy="735.1" r="1.4" fill="#0000ff"/><circle cx="306" cy="737.8" r="1.4" fill="#0000ff"/><circle cx="311.1" cy="737.4" r="1.4" fill="#0000ff"/><circle cx="313.8" cy="736.9" r="1.4" fill="#0000ff"/><circle cx="312.5" cy="738.5" r="1.4" fill="#0000ff"/><circle cx="307.2" cy="739.7" r="1.4" fill="#0000ff"/><circle cx="309.7" cy="740.8" r="1.4" fill="#0000ff"/><circle cx="315.1" cy="740.8" r="1.4" fill="#0000ff"/><circle cx="303.6" cy="743.7" r="1.4" fill="#0000ff"/><circle cx="311.1" cy="743.3" r="1.4" fill="#0000ff"/><circle cx="313.8" cy="743.3" r="1.4" fill="#0000ff"/><circle cx="316.3" cy="743.3" r="1.4" fill="#0000ff"/><circle cx="318.7" cy="743.9" r="1.4" fill="#0000ff"/><circle cx="306" cy="745.4" r="1.4" fill="#0000ff"/><circle cx="308.7" cy="745.4" r="1.4" fill="#0000ff"/><circle cx="306" cy="747" r="1.4" fill="#0000ff"/><circle cx="311.1" cy="747" r="1.4" fill="#0000ff"/><circle cx="308.7" cy="748.8" r="1.4" fill="#0000ff"/><circle cx="309.7" cy="749.8" r="1.4" fill="#0000ff"/><circle cx="313.8" cy="749.2" r="1.4" fill="#0000ff"/><circle cx="316.3" cy="748.1" r="1.4" fill="#0000ff"/><circle cx="312.5" cy="752.6" r="1.4" fill="#0000ff"/><circle cx="312.5" cy="754.3" r="1.4" fill="#0000ff"/><circle cx="315.1" cy="755.8" r="1.4" fill="#0000ff"/><circle cx="307.2" cy="757.1" r="1.4" fill="#0000ff"/><circle cx="309.7" cy="756.9" r="1.4" fill="#0000ff"/><circle cx="309.7" cy="759.4" r="1.4" fill="#0000ff"/><circle cx="312.5" cy="761.1" r="1.4" fill="#0000ff"/><circle cx="309.7" cy="766.2" r="1.4" fill="#0000ff"/><circle cx="312.5" cy="768.1" r="1.4" fill="#0000ff"/>
<circle cx="338" cy="688.7" r="1.4" fill="#ff0000"/><circle cx="338" cy="695.2" r="1.4" fill="#ff0000"/><circle cx="338" cy="701.3" r="1.4" fill="#ff0000"/><circle cx="338" cy="708.9" r="1.4" fill="#ff0000"/><circle cx="335.8" cy="714.8" r="1.4" fill="#ff0000"/><circle cx="338" cy="713.8" r="1.4" fill="#ff0000"/><circle cx="340.1" cy="714.4" r="1.4" fill="#ff0000"/><circle cx="332.6" cy="716.5" r="1.4" fill="#ff0000"/><circle cx="343.3" cy="716.4" r="1.4" fill="#ff0000"/><circle cx="338" cy="728.9" r="1.4" fill="#ff0000"/><circle cx="338" cy="733.1" r="1.4" fill="#ff0000"/><circle cx="338" cy="735.1" r="1.4" fill="#ff0000"/><circle cx="330.9" cy="735.4" r="1.4" fill="#ff0000"/><circle cx="334.4" cy="737.4" r="1.4" fill="#ff0000"/><circle cx="341.6" cy="737.6" r="1.4" fill="#ff0000"/><circle cx="345" cy="735.9" r="1.4" fill="#ff0000"/><circle cx="336.3" cy="745" r="1.4" fill="#ff0000"/><circle cx="336.3" cy="748.8" r="1.4" fill="#ff0000"/><circle cx="339.9" cy="747.1" r="1.4" fill="#ff0000"/><circle cx="339.9" cy="748.1" r="1.4" fill="#ff0000"/><circle cx="343.3" cy="748.1" r="1.4" fill="#ff0000"/><circle cx="332.6" cy="749.8" r="1.4" fill="#ff0000"/><circle cx="332.6" cy="754.3" r="1.4" fill="#ff0000"/><circle cx="336.3" cy="754.3" r="1.4" fill="#ff0000"/><circle cx="339.9" cy="755.4" r="1.4" fill="#ff0000"/><circle cx="343.3" cy="756" r="1.4" fill="#ff0000"/>
<circle cx="364.7" cy="711.6" r="1.4" fill="#22bb22"/><circle cx="364.7" cy="720.6" r="1.4" fill="#22bb22"/><circle cx="363.5" cy="725.1" r="1.4" fill="#22bb22"/><circle cx="366" cy="727.8" r="1.4" fill="#22bb22"/><circle cx="364.7" cy="736.9" r="1.4" fill="#22bb22"/><circle cx="363.3" cy="742.3" r="1.4" fill="#22bb22"/><circle cx="366" cy="741.6" r="1.4" fill="#22bb22"/><circle cx="363.3" cy="750.5" r="1.4" fill="#22bb22"/><circle cx="366" cy="751.4" r="1.4" fill="#22bb22"/><circle cx="364.7" cy="755.9" r="1.4" fill="#22bb22"/><circle cx="364.7" cy="761.2" r="1.4" fill="#22bb22"/><circle cx="364.7" cy="770.7" r="1.4" fill="#22bb22"/>
<circle cx="390.2" cy="732.9" r="1.4" fill="#9900ee"/><circle cx="392.9" cy="735.4" r="1.4" fill="#9900ee"/><circle cx="391.4" cy="748" r="1.4" fill="#9900ee"/><circle cx="391.4" cy="766.5" r="1.4" fill="#9900ee"/>
<circle cx="418.4" cy="663.7" r="1.4" fill="#f57300"/><circle cx="418.4" cy="723.9" r="1.4" fill="#f57300"/><circle cx="418.4" cy="729.9" r="1.4" fill="#f57300"/><circle cx="418.4" cy="733.6" r="1.4" fill="#f57300"/><circle cx="418.4" cy="738.4" r="1.4" fill="#f57300"/><circle cx="415.9" cy="743" r="1.4" fill="#f57300"/><circle cx="418.4" cy="744.3" r="1.4" fill="#f57300"/><circle cx="420.9" cy="742.4" r="1.4" fill="#f57300"/><circle cx="418.4" cy="748" r="1.4" fill="#f57300"/><circle cx="418.4" cy="756.2" r="1.4" fill="#f57300"/><circle cx="418.4" cy="766.7" r="1.4" fill="#f57300"/>
<circle cx="443.9" cy="759.8" r="1.3" fill="#8f8f8f"/><circle cx="445.8" cy="760.3" r="1.3" fill="#8f8f8f"/><circle cx="447.4" cy="760.9" r="1.3" fill="#8f8f8f"/><circle cx="451.8" cy="761.9" r="1.3" fill="#8f8f8f"/><circle cx="438.3" cy="762.3" r="1.3" fill="#8f8f8f"/><circle cx="440.5" cy="762.7" r="1.3" fill="#8f8f8f"/><circle cx="442.7" cy="763.3" r="1.3" fill="#8f8f8f"/><circle cx="449.4" cy="763.3" r="1.3" fill="#8f8f8f"/><circle cx="436.7" cy="765.9" r="1.3" fill="#8f8f8f"/><circle cx="438.9" cy="766.3" r="1.3" fill="#8f8f8f"/><circle cx="441.3" cy="766.7" r="1.3" fill="#8f8f8f"/><circle cx="443.5" cy="766.9" r="1.3" fill="#8f8f8f"/><circle cx="445.8" cy="766.9" r="1.3" fill="#8f8f8f"/><circle cx="448.2" cy="767.3" r="1.3" fill="#8f8f8f"/><circle cx="450.6" cy="766.3" r="1.3" fill="#8f8f8f"/><circle cx="452.9" cy="768.3" r="1.3" fill="#8f8f8f"/><circle cx="447" cy="769" r="1.3" fill="#8f8f8f"/><circle cx="440.3" cy="770.8" r="1.3" fill="#8f8f8f"/><circle cx="442.7" cy="771.2" r="1.3" fill="#8f8f8f"/><circle cx="444.6" cy="771.6" r="1.3" fill="#8f8f8f"/><circle cx="449.4" cy="771.8" r="1.3" fill="#8f8f8f"/><circle cx="445" cy="775.6" r="1.3" fill="#8f8f8f"/>
<text x="622.30" y="595.20" font-size="16.60" text-anchor="middle" class="b">Peptide 120_5</text>
<text transform="translate(497.02,691.25) rotate(-90)" font-size="13.07" text-anchor="middle" class="b">Optical Density</text>
<path d="M536.92 610.93V781.15" stroke="#4a4a4a" stroke-width="1.55" fill="none"/>
<path d="M533.92 781.15H706.90" stroke="#262626" stroke-width="1.15" fill="none"/>
<text x="533.32" y="785.90" font-size="12.9" text-anchor="end" class="b">0.0</text>
<text x="533.32" y="764.68" font-size="12.9" text-anchor="end" class="b">0.5</text>
<text x="533.32" y="743.47" font-size="12.9" text-anchor="end" class="b">1.0</text>
<text x="533.32" y="722.25" font-size="12.9" text-anchor="end" class="b">1.5</text>
<text x="533.32" y="701.04" font-size="12.9" text-anchor="end" class="b">2.0</text>
<text x="533.32" y="679.82" font-size="12.9" text-anchor="end" class="b">2.5</text>
<text x="533.32" y="658.61" font-size="12.9" text-anchor="end" class="b">3.0</text>
<text x="533.32" y="637.39" font-size="12.9" text-anchor="end" class="b">3.5</text>
<text x="533.32" y="616.18" font-size="12.9" text-anchor="end" class="b">4.0</text>
<text transform="translate(558.25,791.65) rotate(-45)" font-size="10.30" text-anchor="end" class="b" font-style="italic">O. lupi</text>
<text transform="translate(585.09,791.65) rotate(-45)" font-size="10.30" text-anchor="end" class="b" font-style="italic">D. immitis</text>
<text transform="translate(611.93,791.65) rotate(-45)" font-size="10.30" text-anchor="end" class="b" font-style="italic">D. repens</text>
<text transform="translate(638.77,791.65) rotate(-45)" font-size="10.30" text-anchor="end" class="b" font-style="italic">A. reconditum</text>
<text transform="translate(665.61,791.65) rotate(-45)" font-size="10.30" text-anchor="end" class="b" font-style="italic">C. bainae</text>
<text transform="translate(692.45,791.65) rotate(-45)" font-size="10.30" text-anchor="end" class="b">Negative sera</text>
<path d="M533.92 759.93H536.92M533.92 738.72H536.92M533.92 717.50H536.92M533.92 696.29H536.92M533.92 675.07H536.92M533.92 653.86H536.92M533.92 632.64H536.92M533.92 611.43H536.92M554.30 781.15V784.15M581.14 781.15V784.15M607.98 781.15V784.15M634.82 781.15V784.15M661.66 781.15V784.15M688.50 781.15V784.15" stroke="#2a2a2a" stroke-width="1.2" fill="none"/>
<path d="M537.92 754.40H706.90" stroke="#505050" stroke-width="1.0" stroke-dasharray="1.9 1.15" fill="none"/>
<circle cx="552.8" cy="675.1" r="1.4" fill="#0000ff"/><circle cx="556.5" cy="675.8" r="1.4" fill="#0000ff"/><circle cx="554.5" cy="681.9" r="1.4" fill="#0000ff"/><circle cx="554.5" cy="693.1" r="1.4" fill="#0000ff"/><circle cx="554.5" cy="696.4" r="1.4" fill="#0000ff"/><circle cx="552.8" cy="698.8" r="1.4" fill="#0000ff"/><circle cx="556.5" cy="700.9" r="1.4" fill="#0000ff"/><circle cx="554.5" cy="704.1" r="1.4" fill="#0000ff"/><circle cx="554.5" cy="708.3" r="1.4" fill="#0000ff"/><circle cx="552.8" cy="712.2" r="1.4" fill="#0000ff"/><circle cx="556.5" cy="712.2" r="1.4" fill="#0000ff"/><circle cx="556.5" cy="714.2" r="1.4" fill="#0000ff"/><circle cx="552.8" cy="716.8" r="1.4" fill="#0000ff"/><circle cx="550.7" cy="718.1" r="1.4" fill="#0000ff"/><circle cx="558.2" cy="717" r="1.4" fill="#0000ff"/><circle cx="554.5" cy="719.8" r="1.4" fill="#0000ff"/><circle cx="556.5" cy="721.9" r="1.4" fill="#0000ff"/><circle cx="552.8" cy="722.7" r="1.4" fill="#0000ff"/><circle cx="550.7" cy="723.8" r="1.4" fill="#0000ff"/><circle cx="558.2" cy="725" r="1.4" fill="#0000ff"/><circle cx="554.5" cy="726.4" r="1.4" fill="#0000ff"/><circle cx="552.8" cy="729.4" r="1.4" fill="#0000ff"/><circle cx="556.5" cy="729.2" r="1.4" fill="#0000ff"/><circle cx="554.5" cy="730.9" r="1.4" fill="#0000ff"/><circle cx="558.2" cy="731.5" r="1.4" fill="#0000ff"/><circle cx="550.7" cy="733.5" r="1.4" fill="#0000ff"/><circle cx="549.2" cy="737.9" r="1.4" fill="#0000ff"/><circle cx="552.8" cy="738.1" r="1.4" fill="#0000ff"/><circle cx="552.8" cy="739.6" r="1.4" fill="#0000ff"/><circle cx="556.5" cy="736.9" r="1.4" fill="#0000ff"/><circle cx="559.9" cy="736" r="1.4" fill="#0000ff"/><circle cx="556.5" cy="741.1" r="1.4" fill="#0000ff"/><circle cx="556.5" cy="743" r="1.4" fill="#0000ff"/><circle cx="549.2" cy="744.2" r="1.4" fill="#0000ff"/><circle cx="549.2" cy="745.9" r="1.4" fill="#0000ff"/><circle cx="552.8" cy="744.2" r="1.4" fill="#0000ff"/><circle cx="559.9" cy="744" r="1.4" fill="#0000ff"/><circle cx="559.9" cy="745.3" r="1.4" fill="#0000ff"/><circle cx="552.8" cy="746.5" r="1.4" fill="#0000ff"/><circle cx="554.5" cy="747.6" r="1.4" fill="#0000ff"/><circle cx="556.5" cy="747" r="1.4" fill="#0000ff"/><circle cx="550.7" cy="749.3" r="1.4" fill="#0000ff"/><circle cx="547.3" cy="751.9" r="1.4" fill="#0000ff"/><circle cx="558.2" cy="750.6" r="1.4" fill="#0000ff"/><circle cx="558.2" cy="752.3" r="1.4" fill="#0000ff"/><circle cx="550.7" cy="753.1" r="1.4" fill="#0000ff"/><circle cx="554.5" cy="754.2" r="1.4" fill="#0000ff"/><circle cx="556.5" cy="756.4" r="1.4" fill="#0000ff"/><circle cx="561.7" cy="754.4" r="1.4" fill="#0000ff"/><circle cx="552.8" cy="758.2" r="1.4" fill="#0000ff"/><circle cx="552.8" cy="760.1" r="1.4" fill="#0000ff"/><circle cx="556.5" cy="762.3" r="1.4" fill="#0000ff"/><circle cx="554.5" cy="764" r="1.4" fill="#0000ff"/><circle cx="550.7" cy="764" r="1.4" fill="#0000ff"/><circle cx="558.2" cy="766.5" r="1.4" fill="#0000ff"/>
<circle cx="581.2" cy="695.6" r="1.4" fill="#ff0000"/><circle cx="581.2" cy="707.1" r="1.4" fill="#ff0000"/><circle cx="574.6" cy="711.5" r="1.4" fill="#ff0000"/><circle cx="579.1" cy="713.9" r="1.4" fill="#ff0000"/><circle cx="583.6" cy="712.8" r="1.4" fill="#ff0000"/><circle cx="588" cy="713.6" r="1.4" fill="#ff0000"/><circle cx="581.2" cy="727.7" r="1.4" fill="#ff0000"/><circle cx="576.8" cy="729.4" r="1.4" fill="#ff0000"/><circle cx="585.9" cy="728.7" r="1.4" fill="#ff0000"/><circle cx="581.2" cy="732.4" r="1.4" fill="#ff0000"/><circle cx="579.1" cy="734.9" r="1.4" fill="#ff0000"/><circle cx="583.6" cy="735.5" r="1.4" fill="#ff0000"/><circle cx="579.1" cy="737.2" r="1.4" fill="#ff0000"/><circle cx="576.8" cy="740.3" r="1.4" fill="#ff0000"/><circle cx="583.6" cy="738.9" r="1.4" fill="#ff0000"/><circle cx="585.9" cy="740.8" r="1.4" fill="#ff0000"/><circle cx="581.2" cy="742.8" r="1.4" fill="#ff0000"/><circle cx="579.1" cy="746.8" r="1.4" fill="#ff0000"/><circle cx="583.6" cy="748.5" r="1.4" fill="#ff0000"/><circle cx="585.9" cy="751" r="1.4" fill="#ff0000"/><circle cx="576.8" cy="751.9" r="1.4" fill="#ff0000"/><circle cx="581.2" cy="751.6" r="1.4" fill="#ff0000"/><circle cx="579.1" cy="754.2" r="1.4" fill="#ff0000"/><circle cx="583.6" cy="755" r="1.4" fill="#ff0000"/><circle cx="579.1" cy="758.4" r="1.4" fill="#ff0000"/><circle cx="583.6" cy="760.8" r="1.4" fill="#ff0000"/>
<circle cx="608" cy="695.4" r="1.4" fill="#22bb22"/><circle cx="608" cy="709.4" r="1.4" fill="#22bb22"/><circle cx="608" cy="712.3" r="1.4" fill="#22bb22"/><circle cx="608" cy="727.4" r="1.4" fill="#22bb22"/><circle cx="606.8" cy="734.6" r="1.4" fill="#22bb22"/><circle cx="609.4" cy="736.7" r="1.4" fill="#22bb22"/><circle cx="609.4" cy="738.4" r="1.4" fill="#22bb22"/><circle cx="606.8" cy="740.3" r="1.4" fill="#22bb22"/><circle cx="608" cy="747.6" r="1.4" fill="#22bb22"/><circle cx="608" cy="754.5" r="1.4" fill="#22bb22"/><circle cx="606.8" cy="763.3" r="1.4" fill="#22bb22"/><circle cx="609.4" cy="764.5" r="1.4" fill="#22bb22"/>
<circle cx="634.9" cy="732.8" r="1.4" fill="#9900ee"/><circle cx="633.4" cy="735.5" r="1.4" fill="#9900ee"/><circle cx="636.1" cy="737.5" r="1.4" fill="#9900ee"/><circle cx="634.9" cy="765.2" r="1.4" fill="#9900ee"/>
<circle cx="661.5" cy="671.7" r="1.4" fill="#f57300"/><circle cx="661.5" cy="730" r="1.4" fill="#f57300"/><circle cx="661.5" cy="733.7" r="1.4" fill="#f57300"/><circle cx="659.4" cy="741.8" r="1.4" fill="#f57300"/><circle cx="663.9" cy="742.3" r="1.4" fill="#f57300"/><circle cx="654.8" cy="747.1" r="1.4" fill="#f57300"/><circle cx="659.4" cy="747.5" r="1.4" fill="#f57300"/><circle cx="661.5" cy="745.7" r="1.4" fill="#f57300"/><circle cx="663.9" cy="748.5" r="1.4" fill="#f57300"/><circle cx="668.4" cy="750" r="1.4" fill="#f57300"/><circle cx="661.5" cy="765.1" r="1.4" fill="#f57300"/>
<circle cx="685.7" cy="759.8" r="1.3" fill="#8f8f8f"/><circle cx="688.2" cy="760.7" r="1.3" fill="#8f8f8f"/><circle cx="691" cy="761.5" r="1.3" fill="#8f8f8f"/><circle cx="685.9" cy="764.3" r="1.3" fill="#8f8f8f"/><circle cx="688.2" cy="763.9" r="1.3" fill="#8f8f8f"/><circle cx="691" cy="763.7" r="1.3" fill="#8f8f8f"/><circle cx="693.8" cy="764.9" r="1.3" fill="#8f8f8f"/><circle cx="681.9" cy="767.1" r="1.3" fill="#8f8f8f"/><circle cx="683.5" cy="766.3" r="1.3" fill="#8f8f8f"/><circle cx="687" cy="767.9" r="1.3" fill="#8f8f8f"/><circle cx="692.2" cy="767.5" r="1.3" fill="#8f8f8f"/><circle cx="694.6" cy="768.6" r="1.3" fill="#8f8f8f"/><circle cx="685.5" cy="770.2" r="1.3" fill="#8f8f8f"/><circle cx="688.2" cy="770.6" r="1.3" fill="#8f8f8f"/><circle cx="690.2" cy="769.4" r="1.3" fill="#8f8f8f"/><circle cx="693.4" cy="771.4" r="1.3" fill="#8f8f8f"/><circle cx="695.7" cy="771.4" r="1.3" fill="#8f8f8f"/><circle cx="680.7" cy="772.2" r="1.3" fill="#8f8f8f"/><circle cx="683.5" cy="772.6" r="1.3" fill="#8f8f8f"/><circle cx="685.1" cy="773.8" r="1.3" fill="#8f8f8f"/><circle cx="687" cy="773.8" r="1.3" fill="#8f8f8f"/><circle cx="689.8" cy="775.4" r="1.3" fill="#8f8f8f"/><circle cx="692.2" cy="775.6" r="1.3" fill="#8f8f8f"/>
</svg>
</body></html>
